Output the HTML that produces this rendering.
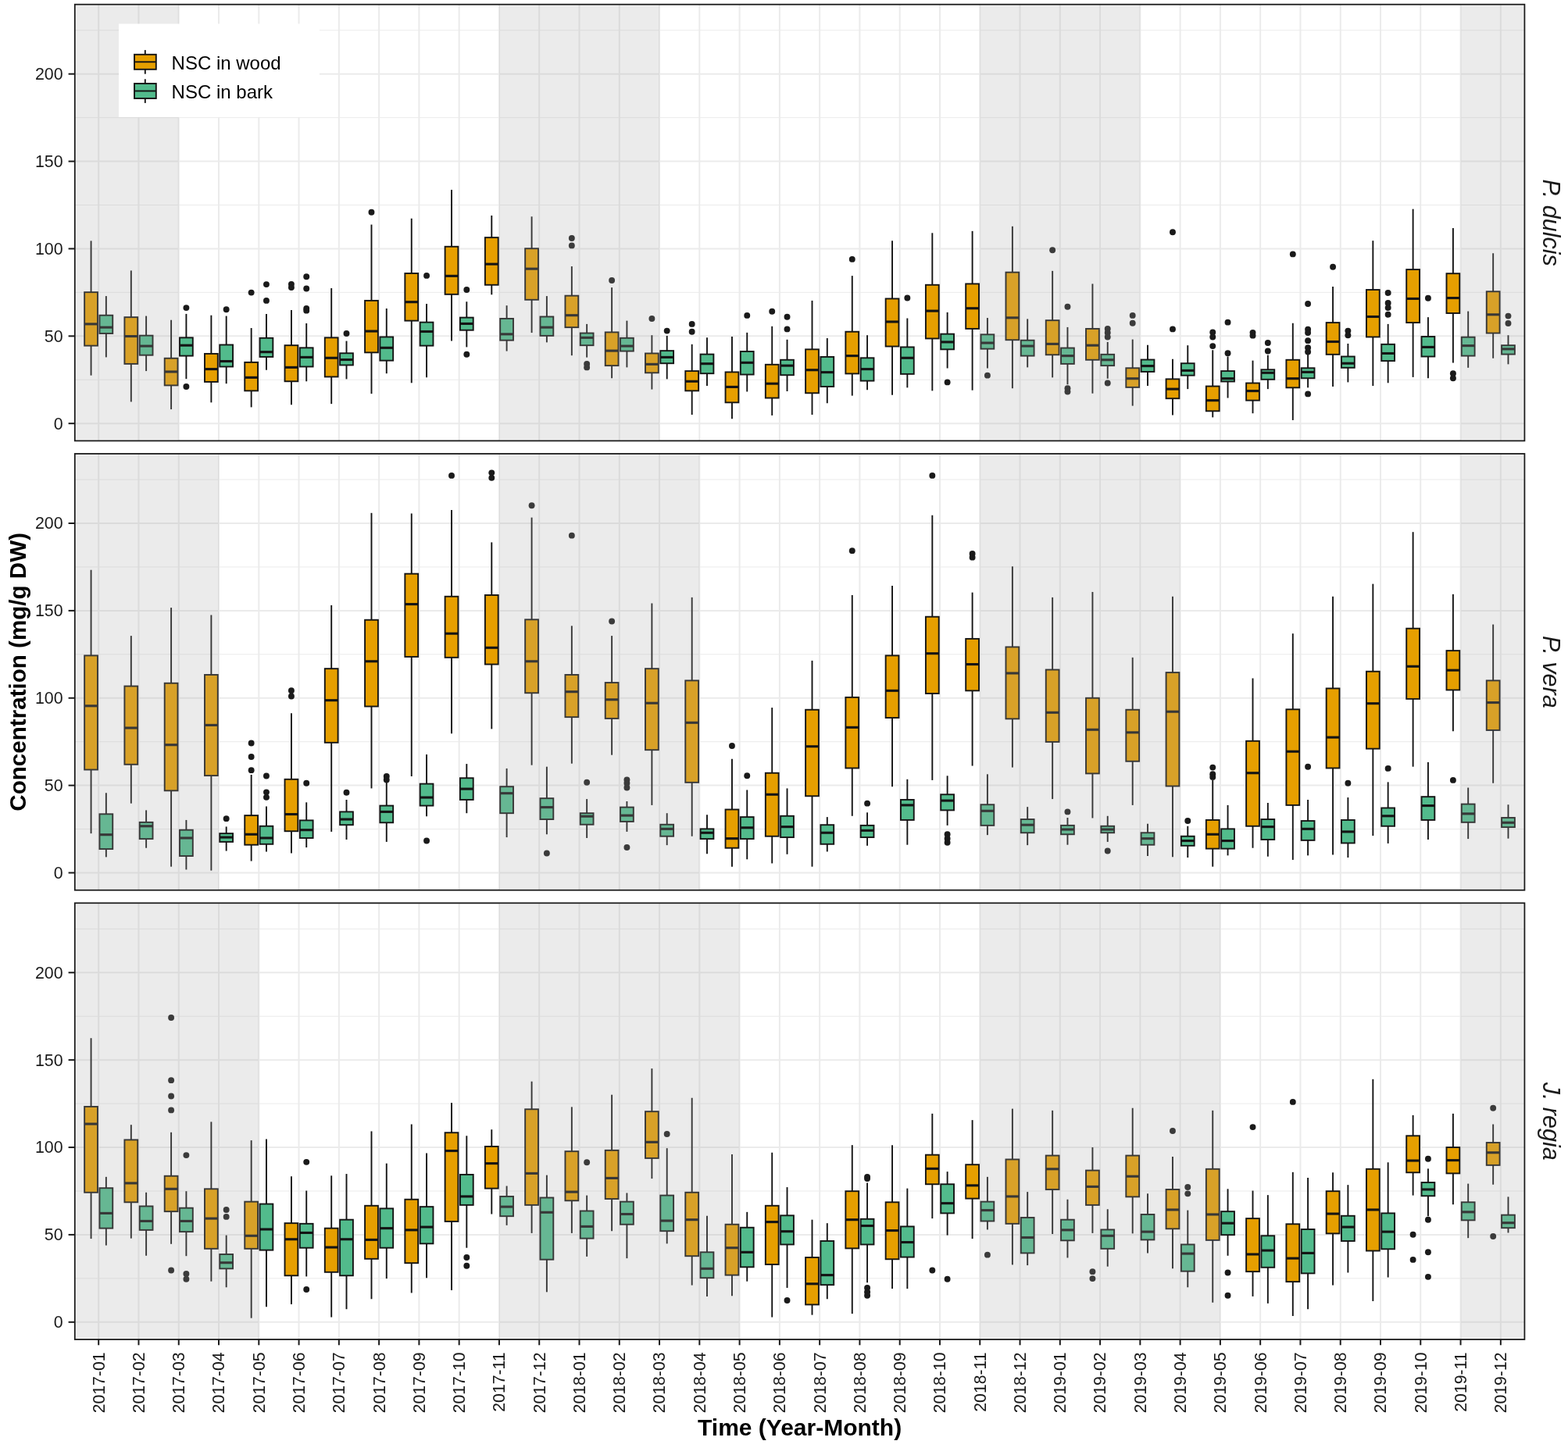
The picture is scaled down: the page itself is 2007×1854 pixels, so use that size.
<!DOCTYPE html>
<html><head><meta charset="utf-8"><title>NSC concentration</title><style>
html,body{margin:0;padding:0;background:#fff}
svg{display:block}
text{font-family:"Liberation Sans",Arial,sans-serif}
.yt text{font-size:21.4px;fill:#1A1A1A;text-anchor:end}
.xt text{font-size:21.2px;fill:#1A1A1A;text-anchor:end}
.tt{font-size:30px;font-weight:bold;fill:#000;text-anchor:middle}
.st{font-size:30.5px;font-style:italic;fill:#1A1A1A;text-anchor:middle}
.lg{font-size:24px;fill:#000}
line.m{stroke-width:3.1px}
</style></head><body>
<svg width="2007" height="1854" viewBox="0 0 2007 1854">
<rect x="0" y="0" width="2007" height="1854" fill="#fff"/>
<g><line x1="95.8" x2="1951.4" y1="486.26" y2="486.26" stroke="#EBEBEB" stroke-width="1"/><line x1="95.8" x2="1951.4" y1="374.39" y2="374.39" stroke="#EBEBEB" stroke-width="1"/><line x1="95.8" x2="1951.4" y1="262.51" y2="262.51" stroke="#EBEBEB" stroke-width="1"/><line x1="95.8" x2="1951.4" y1="150.64" y2="150.64" stroke="#EBEBEB" stroke-width="1"/><line x1="95.8" x2="1951.4" y1="38.76" y2="38.76" stroke="#EBEBEB" stroke-width="1"/><line x1="95.8" x2="1951.4" y1="542.2" y2="542.2" stroke="#EBEBEB" stroke-width="2"/><line x1="95.8" x2="1951.4" y1="430.33" y2="430.33" stroke="#EBEBEB" stroke-width="2"/><line x1="95.8" x2="1951.4" y1="318.45" y2="318.45" stroke="#EBEBEB" stroke-width="2"/><line x1="95.8" x2="1951.4" y1="206.58" y2="206.58" stroke="#EBEBEB" stroke-width="2"/><line x1="95.8" x2="1951.4" y1="94.7" y2="94.7" stroke="#EBEBEB" stroke-width="2"/><line x1="126.2" x2="126.2" y1="5.7" y2="564.4" stroke="#EBEBEB" stroke-width="2"/><line x1="177.47" x2="177.47" y1="5.7" y2="564.4" stroke="#EBEBEB" stroke-width="2"/><line x1="228.75" x2="228.75" y1="5.7" y2="564.4" stroke="#EBEBEB" stroke-width="2"/><line x1="280.02" x2="280.02" y1="5.7" y2="564.4" stroke="#EBEBEB" stroke-width="2"/><line x1="331.3" x2="331.3" y1="5.7" y2="564.4" stroke="#EBEBEB" stroke-width="2"/><line x1="382.57" x2="382.57" y1="5.7" y2="564.4" stroke="#EBEBEB" stroke-width="2"/><line x1="433.85" x2="433.85" y1="5.7" y2="564.4" stroke="#EBEBEB" stroke-width="2"/><line x1="485.12" x2="485.12" y1="5.7" y2="564.4" stroke="#EBEBEB" stroke-width="2"/><line x1="536.4" x2="536.4" y1="5.7" y2="564.4" stroke="#EBEBEB" stroke-width="2"/><line x1="587.67" x2="587.67" y1="5.7" y2="564.4" stroke="#EBEBEB" stroke-width="2"/><line x1="638.95" x2="638.95" y1="5.7" y2="564.4" stroke="#EBEBEB" stroke-width="2"/><line x1="690.23" x2="690.23" y1="5.7" y2="564.4" stroke="#EBEBEB" stroke-width="2"/><line x1="741.5" x2="741.5" y1="5.7" y2="564.4" stroke="#EBEBEB" stroke-width="2"/><line x1="792.77" x2="792.77" y1="5.7" y2="564.4" stroke="#EBEBEB" stroke-width="2"/><line x1="844.05" x2="844.05" y1="5.7" y2="564.4" stroke="#EBEBEB" stroke-width="2"/><line x1="895.33" x2="895.33" y1="5.7" y2="564.4" stroke="#EBEBEB" stroke-width="2"/><line x1="946.6" x2="946.6" y1="5.7" y2="564.4" stroke="#EBEBEB" stroke-width="2"/><line x1="997.88" x2="997.88" y1="5.7" y2="564.4" stroke="#EBEBEB" stroke-width="2"/><line x1="1049.15" x2="1049.15" y1="5.7" y2="564.4" stroke="#EBEBEB" stroke-width="2"/><line x1="1100.42" x2="1100.42" y1="5.7" y2="564.4" stroke="#EBEBEB" stroke-width="2"/><line x1="1151.7" x2="1151.7" y1="5.7" y2="564.4" stroke="#EBEBEB" stroke-width="2"/><line x1="1202.97" x2="1202.97" y1="5.7" y2="564.4" stroke="#EBEBEB" stroke-width="2"/><line x1="1254.25" x2="1254.25" y1="5.7" y2="564.4" stroke="#EBEBEB" stroke-width="2"/><line x1="1305.53" x2="1305.53" y1="5.7" y2="564.4" stroke="#EBEBEB" stroke-width="2"/><line x1="1356.8" x2="1356.8" y1="5.7" y2="564.4" stroke="#EBEBEB" stroke-width="2"/><line x1="1408.08" x2="1408.08" y1="5.7" y2="564.4" stroke="#EBEBEB" stroke-width="2"/><line x1="1459.35" x2="1459.35" y1="5.7" y2="564.4" stroke="#EBEBEB" stroke-width="2"/><line x1="1510.62" x2="1510.62" y1="5.7" y2="564.4" stroke="#EBEBEB" stroke-width="2"/><line x1="1561.9" x2="1561.9" y1="5.7" y2="564.4" stroke="#EBEBEB" stroke-width="2"/><line x1="1613.17" x2="1613.17" y1="5.7" y2="564.4" stroke="#EBEBEB" stroke-width="2"/><line x1="1664.45" x2="1664.45" y1="5.7" y2="564.4" stroke="#EBEBEB" stroke-width="2"/><line x1="1715.72" x2="1715.72" y1="5.7" y2="564.4" stroke="#EBEBEB" stroke-width="2"/><line x1="1767" x2="1767" y1="5.7" y2="564.4" stroke="#EBEBEB" stroke-width="2"/><line x1="1818.28" x2="1818.28" y1="5.7" y2="564.4" stroke="#EBEBEB" stroke-width="2"/><line x1="1869.55" x2="1869.55" y1="5.7" y2="564.4" stroke="#EBEBEB" stroke-width="2"/><line x1="1920.83" x2="1920.83" y1="5.7" y2="564.4" stroke="#EBEBEB" stroke-width="2"/></g>
<g stroke="#141414" stroke-width="1.9" fill="#1A1A1A"><line x1="116.55" x2="116.55" y1="308.38" y2="374.16"/><line x1="116.55" x2="116.55" y1="442.63" y2="480.67"/><rect x="108.15" y="374.16" width="16.8" height="68.47" fill="#E69F00"/><line class="m" x1="108.15" x2="124.95" y1="414.89" y2="414.89"/><line x1="135.85" x2="135.85" y1="379.09" y2="403.7"/><line x1="135.85" x2="135.85" y1="426.97" y2="457.4"/><rect x="127.45" y="403.7" width="16.8" height="23.27" fill="#52BB8C"/><line class="m" x1="127.45" x2="144.25" y1="419.14" y2="419.14"/><line x1="167.82" x2="167.82" y1="346.42" y2="406.16"/><line x1="167.82" x2="167.82" y1="465.9" y2="514.46"/><rect x="159.42" y="406.16" width="16.8" height="59.74" fill="#E69F00"/><line class="m" x1="159.42" x2="176.22" y1="430.55" y2="430.55"/><line x1="187.12" x2="187.12" y1="404.59" y2="429.65"/><line x1="187.12" x2="187.12" y1="454.71" y2="475.08"/><rect x="178.72" y="429.65" width="16.8" height="25.06" fill="#52BB8C"/><line class="m" x1="178.72" x2="195.53" y1="443.08" y2="443.08"/><line x1="219.1" x2="219.1" y1="409.74" y2="458.74"/><line x1="219.1" x2="219.1" y1="493.42" y2="524.08"/><rect x="210.7" y="458.74" width="16.8" height="34.68" fill="#E69F00"/><line class="m" x1="210.7" x2="227.5" y1="475.97" y2="475.97"/><line x1="238.4" x2="238.4" y1="401.91" y2="432.34"/><line x1="238.4" x2="238.4" y1="455.61" y2="485.14"/><rect x="230" y="432.34" width="16.8" height="23.27" fill="#52BB8C"/><line class="m" x1="230" x2="246.8" y1="442.18" y2="442.18"/><circle cx="238.4" cy="394.08" r="3.95" stroke="none"/><circle cx="238.4" cy="494.99" r="3.95" stroke="none"/><line x1="270.38" x2="270.38" y1="403.7" y2="452.92"/><line x1="270.38" x2="270.38" y1="488.95" y2="515.35"/><rect x="261.98" y="452.92" width="16.8" height="36.02" fill="#E69F00"/><line class="m" x1="261.98" x2="278.77" y1="472.61" y2="472.61"/><line x1="289.67" x2="289.67" y1="404.59" y2="441.51"/><line x1="289.67" x2="289.67" y1="469.48" y2="491.19"/><rect x="281.27" y="441.51" width="16.8" height="27.97" fill="#52BB8C"/><line class="m" x1="281.27" x2="298.07" y1="462.55" y2="462.55"/><circle cx="289.67" cy="396.32" r="3.95" stroke="none"/><line x1="321.65" x2="321.65" y1="420.03" y2="463.89"/><line x1="321.65" x2="321.65" y1="500.36" y2="521.39"/><rect x="313.25" y="463.89" width="16.8" height="36.47" fill="#E69F00"/><line class="m" x1="313.25" x2="330.05" y1="483.35" y2="483.35"/><circle cx="321.65" cy="374.61" r="3.95" stroke="none"/><line x1="340.95" x2="340.95" y1="401.91" y2="432.79"/><line x1="340.95" x2="340.95" y1="456.95" y2="473.73"/><rect x="332.55" y="432.79" width="16.8" height="24.16" fill="#52BB8C"/><line class="m" x1="332.55" x2="349.35" y1="450.69" y2="450.69"/><circle cx="340.95" cy="364.1" r="3.95" stroke="none"/><circle cx="340.95" cy="384.9" r="3.95" stroke="none"/><line x1="372.93" x2="372.93" y1="396.99" y2="442.18"/><line x1="372.93" x2="372.93" y1="488.28" y2="518.26"/><rect x="364.53" y="442.18" width="16.8" height="46.09" fill="#E69F00"/><line class="m" x1="364.53" x2="381.32" y1="470.38" y2="470.38"/><circle cx="372.93" cy="363.87" r="3.95" stroke="none"/><circle cx="372.93" cy="368.12" r="3.95" stroke="none"/><line x1="392.22" x2="392.22" y1="413.99" y2="445.32"/><line x1="392.22" x2="392.22" y1="469.48" y2="488.28"/><rect x="383.82" y="445.32" width="16.8" height="24.16" fill="#52BB8C"/><line class="m" x1="383.82" x2="400.62" y1="457.4" y2="457.4"/><circle cx="392.22" cy="354.25" r="3.95" stroke="none"/><circle cx="392.22" cy="369.47" r="3.95" stroke="none"/><circle cx="392.22" cy="394.97" r="3.95" stroke="none"/><circle cx="392.22" cy="397.66" r="3.95" stroke="none"/><line x1="424.2" x2="424.2" y1="369.02" y2="432.34"/><line x1="424.2" x2="424.2" y1="482.46" y2="517.14"/><rect x="415.8" y="432.34" width="16.8" height="50.12" fill="#E69F00"/><line class="m" x1="415.8" x2="432.6" y1="458.29" y2="458.29"/><line x1="443.5" x2="443.5" y1="436.59" y2="452.25"/><line x1="443.5" x2="443.5" y1="467.47" y2="485.37"/><rect x="435.1" y="452.25" width="16.8" height="15.22" fill="#52BB8C"/><line class="m" x1="435.1" x2="451.9" y1="460.53" y2="460.53"/><circle cx="443.5" cy="426.97" r="3.95" stroke="none"/><line x1="475.48" x2="475.48" y1="287.57" y2="384.9"/><line x1="475.48" x2="475.48" y1="451.36" y2="504.16"/><rect x="467.08" y="384.9" width="16.8" height="66.45" fill="#E69F00"/><line class="m" x1="467.08" x2="483.88" y1="424.06" y2="424.06"/><circle cx="475.48" cy="271.69" r="3.95" stroke="none"/><line x1="494.77" x2="494.77" y1="394.97" y2="431.44"/><line x1="494.77" x2="494.77" y1="461.65" y2="478.21"/><rect x="486.38" y="431.44" width="16.8" height="30.21" fill="#52BB8C"/><line class="m" x1="486.38" x2="503.17" y1="445.32" y2="445.32"/><line x1="526.75" x2="526.75" y1="279.74" y2="350"/><line x1="526.75" x2="526.75" y1="410.64" y2="490.29"/><rect x="518.35" y="350" width="16.8" height="60.64" fill="#E69F00"/><line class="m" x1="518.35" x2="535.15" y1="386.69" y2="386.69"/><line x1="546.05" x2="546.05" y1="388.93" y2="412.65"/><line x1="546.05" x2="546.05" y1="442.63" y2="483.35"/><rect x="537.65" y="412.65" width="16.8" height="29.98" fill="#52BB8C"/><line class="m" x1="537.65" x2="554.45" y1="424.51" y2="424.51"/><circle cx="546.05" cy="352.91" r="3.95" stroke="none"/><line x1="578.02" x2="578.02" y1="243.05" y2="315.77"/><line x1="578.02" x2="578.02" y1="376.85" y2="436.59"/><rect x="569.62" y="315.77" width="16.8" height="61.08" fill="#E69F00"/><line class="m" x1="569.62" x2="586.42" y1="353.36" y2="353.36"/><line x1="597.32" x2="597.32" y1="386.25" y2="406.61"/><line x1="597.32" x2="597.32" y1="422.72" y2="444.42"/><rect x="588.92" y="406.61" width="16.8" height="16.11" fill="#52BB8C"/><line class="m" x1="588.92" x2="605.72" y1="414.44" y2="414.44"/><circle cx="597.32" cy="371.03" r="3.95" stroke="none"/><circle cx="597.32" cy="453.82" r="3.95" stroke="none"/><line x1="629.3" x2="629.3" y1="275.94" y2="304.13"/><line x1="629.3" x2="629.3" y1="364.77" y2="377.3"/><rect x="620.9" y="304.13" width="16.8" height="60.64" fill="#E69F00"/><line class="m" x1="620.9" x2="637.7" y1="338.14" y2="338.14"/><line x1="648.6" x2="648.6" y1="391.17" y2="407.95"/><line x1="648.6" x2="648.6" y1="435.7" y2="449.57"/><rect x="640.2" y="407.95" width="16.8" height="27.74" fill="#52BB8C"/><line class="m" x1="640.2" x2="657" y1="427.86" y2="427.86"/><line x1="680.58" x2="680.58" y1="277.28" y2="318.23"/><line x1="680.58" x2="680.58" y1="383.79" y2="426.07"/><rect x="672.18" y="318.23" width="16.8" height="65.56" fill="#E69F00"/><line class="m" x1="672.18" x2="688.98" y1="344.18" y2="344.18"/><line x1="699.88" x2="699.88" y1="379.09" y2="405.49"/><line x1="699.88" x2="699.88" y1="429.88" y2="438.38"/><rect x="691.48" y="405.49" width="16.8" height="24.39" fill="#52BB8C"/><line class="m" x1="691.48" x2="708.27" y1="419.14" y2="419.14"/><line x1="731.85" x2="731.85" y1="341.05" y2="378.64"/><line x1="731.85" x2="731.85" y1="419.14" y2="455.16"/><rect x="723.45" y="378.64" width="16.8" height="40.5" fill="#E69F00"/><line class="m" x1="723.45" x2="740.25" y1="403.7" y2="403.7"/><circle cx="731.85" cy="305.03" r="3.95" stroke="none"/><circle cx="731.85" cy="314.42" r="3.95" stroke="none"/><line x1="751.15" x2="751.15" y1="414.89" y2="426.52"/><line x1="751.15" x2="751.15" y1="442.18" y2="457.62"/><rect x="742.75" y="426.52" width="16.8" height="15.66" fill="#52BB8C"/><line class="m" x1="742.75" x2="759.55" y1="432.34" y2="432.34"/><circle cx="751.15" cy="465.9" r="3.95" stroke="none"/><circle cx="751.15" cy="470.38" r="3.95" stroke="none"/><line x1="783.12" x2="783.12" y1="368.12" y2="425.4"/><line x1="783.12" x2="783.12" y1="468.14" y2="484.25"/><rect x="774.73" y="425.4" width="16.8" height="42.74" fill="#E69F00"/><line class="m" x1="774.73" x2="791.52" y1="449.12" y2="449.12"/><circle cx="783.12" cy="358.95" r="3.95" stroke="none"/><line x1="802.42" x2="802.42" y1="410.64" y2="432.79"/><line x1="802.42" x2="802.42" y1="449.57" y2="470.38"/><rect x="794.02" y="432.79" width="16.8" height="16.78" fill="#52BB8C"/><line class="m" x1="794.02" x2="810.82" y1="443.08" y2="443.08"/><line x1="834.4" x2="834.4" y1="429.21" y2="452.48"/><line x1="834.4" x2="834.4" y1="477.31" y2="498.57"/><rect x="826" y="452.48" width="16.8" height="24.84" fill="#E69F00"/><line class="m" x1="826" x2="842.8" y1="466.35" y2="466.35"/><circle cx="834.4" cy="407.95" r="3.95" stroke="none"/><line x1="853.7" x2="853.7" y1="429.88" y2="449.12"/><line x1="853.7" x2="853.7" y1="465.23" y2="485.37"/><rect x="845.3" y="449.12" width="16.8" height="16.11" fill="#52BB8C"/><line class="m" x1="845.3" x2="862.1" y1="457.4" y2="457.4"/><circle cx="853.7" cy="423.61" r="3.95" stroke="none"/><line x1="885.68" x2="885.68" y1="440.84" y2="475.08"/><line x1="885.68" x2="885.68" y1="500.36" y2="531.01"/><rect x="877.28" y="475.08" width="16.8" height="25.28" fill="#E69F00"/><line class="m" x1="877.28" x2="894.08" y1="488.28" y2="488.28"/><circle cx="885.68" cy="414.89" r="3.95" stroke="none"/><circle cx="885.68" cy="424.73" r="3.95" stroke="none"/><line x1="904.98" x2="904.98" y1="432.34" y2="453.6"/><line x1="904.98" x2="904.98" y1="478.21" y2="494.09"/><rect x="896.58" y="453.6" width="16.8" height="24.61" fill="#52BB8C"/><line class="m" x1="896.58" x2="913.38" y1="465.68" y2="465.68"/><line x1="936.95" x2="936.95" y1="431" y2="476.42"/><line x1="936.95" x2="936.95" y1="515.35" y2="536.16"/><rect x="928.55" y="476.42" width="16.8" height="38.93" fill="#E69F00"/><line class="m" x1="928.55" x2="945.35" y1="495.44" y2="495.44"/><line x1="956.25" x2="956.25" y1="425.85" y2="450.02"/><line x1="956.25" x2="956.25" y1="479.55" y2="501.48"/><rect x="947.85" y="450.02" width="16.8" height="29.54" fill="#52BB8C"/><line class="m" x1="947.85" x2="964.65" y1="464.34" y2="464.34"/><circle cx="956.25" cy="403.92" r="3.95" stroke="none"/><line x1="988.23" x2="988.23" y1="417.8" y2="466.8"/><line x1="988.23" x2="988.23" y1="509.53" y2="531.91"/><rect x="979.83" y="466.8" width="16.8" height="42.74" fill="#E69F00"/><line class="m" x1="979.83" x2="996.62" y1="491.19" y2="491.19"/><circle cx="988.23" cy="398.78" r="3.95" stroke="none"/><line x1="1007.52" x2="1007.52" y1="434.8" y2="460.76"/><line x1="1007.52" x2="1007.52" y1="480.22" y2="501.03"/><rect x="999.12" y="460.76" width="16.8" height="19.47" fill="#52BB8C"/><line class="m" x1="999.12" x2="1015.92" y1="468.14" y2="468.14"/><circle cx="1007.52" cy="405.71" r="3.95" stroke="none"/><circle cx="1007.52" cy="421.38" r="3.95" stroke="none"/><line x1="1039.5" x2="1039.5" y1="384.9" y2="447.33"/><line x1="1039.5" x2="1039.5" y1="503.27" y2="531.01"/><rect x="1031.1" y="447.33" width="16.8" height="55.94" fill="#E69F00"/><line class="m" x1="1031.1" x2="1047.9" y1="473.73" y2="473.73"/><line x1="1058.8" x2="1058.8" y1="433.01" y2="456.95"/><line x1="1058.8" x2="1058.8" y1="494.99" y2="516.25"/><rect x="1050.4" y="456.95" width="16.8" height="38.04" fill="#52BB8C"/><line class="m" x1="1050.4" x2="1067.2" y1="476.64" y2="476.64"/><line x1="1090.77" x2="1090.77" y1="353.13" y2="424.73"/><line x1="1090.77" x2="1090.77" y1="478.43" y2="506.62"/><rect x="1082.37" y="424.73" width="16.8" height="53.7" fill="#E69F00"/><line class="m" x1="1082.37" x2="1099.17" y1="455.61" y2="455.61"/><circle cx="1090.77" cy="331.88" r="3.95" stroke="none"/><line x1="1110.08" x2="1110.08" y1="429.21" y2="458.29"/><line x1="1110.08" x2="1110.08" y1="487.61" y2="499.24"/><rect x="1101.67" y="458.29" width="16.8" height="29.31" fill="#52BB8C"/><line class="m" x1="1101.67" x2="1118.48" y1="472.61" y2="472.61"/><line x1="1142.05" x2="1142.05" y1="308.16" y2="382.44"/><line x1="1142.05" x2="1142.05" y1="443.53" y2="505.73"/><rect x="1133.65" y="382.44" width="16.8" height="61.08" fill="#E69F00"/><line class="m" x1="1133.65" x2="1150.45" y1="411.98" y2="411.98"/><line x1="1161.35" x2="1161.35" y1="407.5" y2="444.42"/><line x1="1161.35" x2="1161.35" y1="478.88" y2="496.33"/><rect x="1152.95" y="444.42" width="16.8" height="34.46" fill="#52BB8C"/><line class="m" x1="1152.95" x2="1169.75" y1="458.29" y2="458.29"/><circle cx="1161.35" cy="381.55" r="3.95" stroke="none"/><line x1="1193.32" x2="1193.32" y1="298.31" y2="364.77"/><line x1="1193.32" x2="1193.32" y1="433.46" y2="500.36"/><rect x="1184.92" y="364.77" width="16.8" height="68.69" fill="#E69F00"/><line class="m" x1="1184.92" x2="1201.72" y1="398.11" y2="398.11"/><line x1="1212.62" x2="1212.62" y1="399.9" y2="427.64"/><line x1="1212.62" x2="1212.62" y1="447.33" y2="471.5"/><rect x="1204.22" y="427.64" width="16.8" height="19.69" fill="#52BB8C"/><line class="m" x1="1204.22" x2="1221.03" y1="437.93" y2="437.93"/><circle cx="1212.62" cy="489.4" r="3.95" stroke="none"/><line x1="1244.6" x2="1244.6" y1="295.85" y2="363.42"/><line x1="1244.6" x2="1244.6" y1="420.93" y2="499.69"/><rect x="1236.2" y="363.42" width="16.8" height="57.5" fill="#E69F00"/><line class="m" x1="1236.2" x2="1253" y1="394.75" y2="394.75"/><line x1="1263.9" x2="1263.9" y1="407.06" y2="428.31"/><line x1="1263.9" x2="1263.9" y1="446.66" y2="471.5"/><rect x="1255.5" y="428.31" width="16.8" height="18.35" fill="#52BB8C"/><line class="m" x1="1255.5" x2="1272.3" y1="439.05" y2="439.05"/><circle cx="1263.9" cy="480.67" r="3.95" stroke="none"/><line x1="1295.88" x2="1295.88" y1="289.81" y2="348.66"/><line x1="1295.88" x2="1295.88" y1="435.25" y2="497.23"/><rect x="1287.47" y="348.66" width="16.8" height="86.59" fill="#E69F00"/><line class="m" x1="1287.47" x2="1304.28" y1="406.83" y2="406.83"/><line x1="1315.18" x2="1315.18" y1="408.4" y2="435.7"/><line x1="1315.18" x2="1315.18" y1="455.61" y2="470.38"/><rect x="1306.78" y="435.7" width="16.8" height="19.91" fill="#52BB8C"/><line class="m" x1="1306.78" x2="1323.58" y1="443.08" y2="443.08"/><line x1="1347.15" x2="1347.15" y1="346.87" y2="410.19"/><line x1="1347.15" x2="1347.15" y1="454.27" y2="483.35"/><rect x="1338.75" y="410.19" width="16.8" height="44.08" fill="#E69F00"/><line class="m" x1="1338.75" x2="1355.55" y1="440.39" y2="440.39"/><circle cx="1347.15" cy="320.24" r="3.95" stroke="none"/><line x1="1366.45" x2="1366.45" y1="418.91" y2="445.54"/><line x1="1366.45" x2="1366.45" y1="465.9" y2="492.3"/><rect x="1358.05" y="445.54" width="16.8" height="20.36" fill="#52BB8C"/><line class="m" x1="1358.05" x2="1374.85" y1="455.61" y2="455.61"/><circle cx="1366.45" cy="392.74" r="3.95" stroke="none"/><circle cx="1366.45" cy="497.23" r="3.95" stroke="none"/><circle cx="1366.45" cy="501.48" r="3.95" stroke="none"/><line x1="1398.42" x2="1398.42" y1="363.42" y2="420.93"/><line x1="1398.42" x2="1398.42" y1="460.76" y2="503.72"/><rect x="1390.02" y="420.93" width="16.8" height="39.83" fill="#E69F00"/><line class="m" x1="1390.02" x2="1406.83" y1="442.18" y2="442.18"/><line x1="1417.73" x2="1417.73" y1="437.93" y2="453.82"/><line x1="1417.73" x2="1417.73" y1="468.14" y2="484.7"/><rect x="1409.33" y="453.82" width="16.8" height="14.32" fill="#52BB8C"/><line class="m" x1="1409.33" x2="1426.13" y1="460.76" y2="460.76"/><circle cx="1417.73" cy="420.93" r="3.95" stroke="none"/><circle cx="1417.73" cy="426.07" r="3.95" stroke="none"/><circle cx="1417.73" cy="431.44" r="3.95" stroke="none"/><circle cx="1417.73" cy="490.51" r="3.95" stroke="none"/><line x1="1449.7" x2="1449.7" y1="434.58" y2="471.27"/><line x1="1449.7" x2="1449.7" y1="495.88" y2="519.6"/><rect x="1441.3" y="471.27" width="16.8" height="24.61" fill="#E69F00"/><line class="m" x1="1441.3" x2="1458.1" y1="484.7" y2="484.7"/><circle cx="1449.7" cy="403.92" r="3.95" stroke="none"/><circle cx="1449.7" cy="413.77" r="3.95" stroke="none"/><line x1="1469" x2="1469" y1="441.74" y2="460.53"/><line x1="1469" x2="1469" y1="475.97" y2="494.09"/><rect x="1460.6" y="460.53" width="16.8" height="15.44" fill="#52BB8C"/><line class="m" x1="1460.6" x2="1477.4" y1="468.59" y2="468.59"/><line x1="1500.97" x2="1500.97" y1="459.86" y2="485.37"/><line x1="1500.97" x2="1500.97" y1="510.2" y2="531.46"/><rect x="1492.57" y="485.37" width="16.8" height="24.84" fill="#E69F00"/><line class="m" x1="1492.57" x2="1509.38" y1="498.12" y2="498.12"/><circle cx="1500.97" cy="297.19" r="3.95" stroke="none"/><circle cx="1500.97" cy="421.38" r="3.95" stroke="none"/><line x1="1520.28" x2="1520.28" y1="442.18" y2="465.23"/><line x1="1520.28" x2="1520.28" y1="480.67" y2="498.12"/><rect x="1511.88" y="465.23" width="16.8" height="15.44" fill="#52BB8C"/><line class="m" x1="1511.88" x2="1528.68" y1="474.4" y2="474.4"/><line x1="1552.25" x2="1552.25" y1="448.23" y2="494.54"/><line x1="1552.25" x2="1552.25" y1="526.31" y2="534.37"/><rect x="1543.85" y="494.54" width="16.8" height="31.77" fill="#E69F00"/><line class="m" x1="1543.85" x2="1560.65" y1="512.67" y2="512.67"/><circle cx="1552.25" cy="425.4" r="3.95" stroke="none"/><circle cx="1552.25" cy="431.44" r="3.95" stroke="none"/><circle cx="1552.25" cy="443.08" r="3.95" stroke="none"/><line x1="1571.55" x2="1571.55" y1="456.5" y2="475.08"/><line x1="1571.55" x2="1571.55" y1="488.5" y2="509.53"/><rect x="1563.15" y="475.08" width="16.8" height="13.42" fill="#52BB8C"/><line class="m" x1="1563.15" x2="1579.95" y1="484.7" y2="484.7"/><circle cx="1571.55" cy="412.65" r="3.95" stroke="none"/><circle cx="1571.55" cy="452.25" r="3.95" stroke="none"/><line x1="1603.52" x2="1603.52" y1="461.65" y2="490.51"/><line x1="1603.52" x2="1603.52" y1="512.67" y2="529.22"/><rect x="1595.12" y="490.51" width="16.8" height="22.15" fill="#E69F00"/><line class="m" x1="1595.12" x2="1611.92" y1="500.58" y2="500.58"/><circle cx="1603.52" cy="425.85" r="3.95" stroke="none"/><circle cx="1603.52" cy="429.65" r="3.95" stroke="none"/><line x1="1622.83" x2="1622.83" y1="454.71" y2="473.29"/><line x1="1622.83" x2="1622.83" y1="485.82" y2="498.12"/><rect x="1614.42" y="473.29" width="16.8" height="12.53" fill="#52BB8C"/><line class="m" x1="1614.42" x2="1631.23" y1="477.31" y2="477.31"/><circle cx="1622.83" cy="439.05" r="3.95" stroke="none"/><circle cx="1622.83" cy="449.57" r="3.95" stroke="none"/><line x1="1654.8" x2="1654.8" y1="413.77" y2="460.76"/><line x1="1654.8" x2="1654.8" y1="496.33" y2="537.95"/><rect x="1646.4" y="460.76" width="16.8" height="35.58" fill="#E69F00"/><line class="m" x1="1646.4" x2="1663.2" y1="484.7" y2="484.7"/><circle cx="1654.8" cy="325.39" r="3.95" stroke="none"/><line x1="1674.1" x2="1674.1" y1="453.82" y2="471.27"/><line x1="1674.1" x2="1674.1" y1="484.25" y2="496.33"/><rect x="1665.7" y="471.27" width="16.8" height="12.98" fill="#52BB8C"/><line class="m" x1="1665.7" x2="1682.5" y1="476.42" y2="476.42"/><circle cx="1674.1" cy="388.93" r="3.95" stroke="none"/><circle cx="1674.1" cy="421.82" r="3.95" stroke="none"/><circle cx="1674.1" cy="426.07" r="3.95" stroke="none"/><circle cx="1674.1" cy="436.14" r="3.95" stroke="none"/><circle cx="1674.1" cy="445.32" r="3.95" stroke="none"/><circle cx="1674.1" cy="450.46" r="3.95" stroke="none"/><circle cx="1674.1" cy="504.39" r="3.95" stroke="none"/><line x1="1706.07" x2="1706.07" y1="367" y2="413.1"/><line x1="1706.07" x2="1706.07" y1="453.82" y2="494.99"/><rect x="1697.67" y="413.1" width="16.8" height="40.72" fill="#E69F00"/><line class="m" x1="1697.67" x2="1714.47" y1="437.49" y2="437.49"/><circle cx="1706.07" cy="341.72" r="3.95" stroke="none"/><line x1="1725.38" x2="1725.38" y1="439.95" y2="456.5"/><line x1="1725.38" x2="1725.38" y1="470.82" y2="489.4"/><rect x="1716.97" y="456.5" width="16.8" height="14.32" fill="#52BB8C"/><line class="m" x1="1716.97" x2="1733.78" y1="465.23" y2="465.23"/><circle cx="1725.38" cy="423.61" r="3.95" stroke="none"/><circle cx="1725.38" cy="429.21" r="3.95" stroke="none"/><line x1="1757.35" x2="1757.35" y1="308.16" y2="371.03"/><line x1="1757.35" x2="1757.35" y1="431.44" y2="494.09"/><rect x="1748.95" y="371.03" width="16.8" height="60.41" fill="#E69F00"/><line class="m" x1="1748.95" x2="1765.75" y1="405.49" y2="405.49"/><line x1="1776.65" x2="1776.65" y1="414.89" y2="440.84"/><line x1="1776.65" x2="1776.65" y1="462.1" y2="490.29"/><rect x="1768.25" y="440.84" width="16.8" height="21.26" fill="#52BB8C"/><line class="m" x1="1768.25" x2="1785.05" y1="452.48" y2="452.48"/><circle cx="1776.65" cy="375.06" r="3.95" stroke="none"/><circle cx="1776.65" cy="388.04" r="3.95" stroke="none"/><circle cx="1776.65" cy="394.08" r="3.95" stroke="none"/><circle cx="1776.65" cy="402.8" r="3.95" stroke="none"/><line x1="1808.62" x2="1808.62" y1="267.66" y2="345.08"/><line x1="1808.62" x2="1808.62" y1="413.1" y2="482.91"/><rect x="1800.22" y="345.08" width="16.8" height="68.02" fill="#E69F00"/><line class="m" x1="1800.22" x2="1817.03" y1="382.44" y2="382.44"/><line x1="1827.93" x2="1827.93" y1="406.16" y2="431"/><line x1="1827.93" x2="1827.93" y1="456.5" y2="484.25"/><rect x="1819.53" y="431" width="16.8" height="25.51" fill="#52BB8C"/><line class="m" x1="1819.53" x2="1836.33" y1="444.42" y2="444.42"/><circle cx="1827.93" cy="381.77" r="3.95" stroke="none"/><line x1="1859.9" x2="1859.9" y1="292.05" y2="350.22"/><line x1="1859.9" x2="1859.9" y1="401.01" y2="464.56"/><rect x="1851.5" y="350.22" width="16.8" height="50.79" fill="#E69F00"/><line class="m" x1="1851.5" x2="1868.3" y1="381.55" y2="381.55"/><circle cx="1859.9" cy="478.21" r="3.95" stroke="none"/><circle cx="1859.9" cy="484.25" r="3.95" stroke="none"/><line x1="1879.2" x2="1879.2" y1="398.55" y2="431.67"/><line x1="1879.2" x2="1879.2" y1="455.61" y2="470.82"/><rect x="1870.8" y="431.67" width="16.8" height="23.94" fill="#52BB8C"/><line class="m" x1="1870.8" x2="1887.6" y1="442.63" y2="442.63"/><line x1="1911.17" x2="1911.17" y1="324.27" y2="373.27"/><line x1="1911.17" x2="1911.17" y1="426.52" y2="458.74"/><rect x="1902.77" y="373.27" width="16.8" height="53.25" fill="#E69F00"/><line class="m" x1="1902.77" x2="1919.58" y1="402.8" y2="402.8"/><line x1="1930.48" x2="1930.48" y1="429.21" y2="442.18"/><line x1="1930.48" x2="1930.48" y1="453.6" y2="466.35"/><rect x="1922.08" y="442.18" width="16.8" height="11.41" fill="#52BB8C"/><line class="m" x1="1922.08" x2="1938.88" y1="446.88" y2="446.88"/><circle cx="1930.48" cy="404.59" r="3.95" stroke="none"/><circle cx="1930.48" cy="413.99" r="3.95" stroke="none"/></g>
<g fill="#AAAAAA" fill-opacity="0.235"><rect x="97.4" y="7.3" width="131.35" height="555.5"/><rect x="638.95" y="7.3" width="205.1" height="555.5"/><rect x="1254.25" y="7.3" width="205.1" height="555.5"/><rect x="1869.55" y="7.3" width="80.25" height="555.5"/></g>
<rect x="95.8" y="5.7" width="1855.6" height="558.7" fill="none" stroke="#1a1a1a" stroke-width="1.8"/>
<g stroke="#1A1A1A" stroke-width="2"><line x1="87.6" x2="95.8" y1="542.2" y2="542.2"/><line x1="87.6" x2="95.8" y1="430.33" y2="430.33"/><line x1="87.6" x2="95.8" y1="318.45" y2="318.45"/><line x1="87.6" x2="95.8" y1="206.58" y2="206.58"/><line x1="87.6" x2="95.8" y1="94.7" y2="94.7"/></g>
<g class="yt"><text x="80.6" y="549.6">0</text><text x="80.6" y="437.73">50</text><text x="80.6" y="325.85">100</text><text x="80.6" y="213.98">150</text><text x="80.6" y="102.1">200</text></g>
<text class="st" transform="translate(1975.3 285.05) rotate(90)">P. dulcis</text>
<g><line x1="95.8" x2="1951.4" y1="1061.56" y2="1061.56" stroke="#EBEBEB" stroke-width="1"/><line x1="95.8" x2="1951.4" y1="949.69" y2="949.69" stroke="#EBEBEB" stroke-width="1"/><line x1="95.8" x2="1951.4" y1="837.81" y2="837.81" stroke="#EBEBEB" stroke-width="1"/><line x1="95.8" x2="1951.4" y1="725.94" y2="725.94" stroke="#EBEBEB" stroke-width="1"/><line x1="95.8" x2="1951.4" y1="614.06" y2="614.06" stroke="#EBEBEB" stroke-width="1"/><line x1="95.8" x2="1951.4" y1="1117.5" y2="1117.5" stroke="#EBEBEB" stroke-width="2"/><line x1="95.8" x2="1951.4" y1="1005.62" y2="1005.62" stroke="#EBEBEB" stroke-width="2"/><line x1="95.8" x2="1951.4" y1="893.75" y2="893.75" stroke="#EBEBEB" stroke-width="2"/><line x1="95.8" x2="1951.4" y1="781.88" y2="781.88" stroke="#EBEBEB" stroke-width="2"/><line x1="95.8" x2="1951.4" y1="670" y2="670" stroke="#EBEBEB" stroke-width="2"/><line x1="126.2" x2="126.2" y1="581" y2="1139.7" stroke="#EBEBEB" stroke-width="2"/><line x1="177.47" x2="177.47" y1="581" y2="1139.7" stroke="#EBEBEB" stroke-width="2"/><line x1="228.75" x2="228.75" y1="581" y2="1139.7" stroke="#EBEBEB" stroke-width="2"/><line x1="280.02" x2="280.02" y1="581" y2="1139.7" stroke="#EBEBEB" stroke-width="2"/><line x1="331.3" x2="331.3" y1="581" y2="1139.7" stroke="#EBEBEB" stroke-width="2"/><line x1="382.57" x2="382.57" y1="581" y2="1139.7" stroke="#EBEBEB" stroke-width="2"/><line x1="433.85" x2="433.85" y1="581" y2="1139.7" stroke="#EBEBEB" stroke-width="2"/><line x1="485.12" x2="485.12" y1="581" y2="1139.7" stroke="#EBEBEB" stroke-width="2"/><line x1="536.4" x2="536.4" y1="581" y2="1139.7" stroke="#EBEBEB" stroke-width="2"/><line x1="587.67" x2="587.67" y1="581" y2="1139.7" stroke="#EBEBEB" stroke-width="2"/><line x1="638.95" x2="638.95" y1="581" y2="1139.7" stroke="#EBEBEB" stroke-width="2"/><line x1="690.23" x2="690.23" y1="581" y2="1139.7" stroke="#EBEBEB" stroke-width="2"/><line x1="741.5" x2="741.5" y1="581" y2="1139.7" stroke="#EBEBEB" stroke-width="2"/><line x1="792.77" x2="792.77" y1="581" y2="1139.7" stroke="#EBEBEB" stroke-width="2"/><line x1="844.05" x2="844.05" y1="581" y2="1139.7" stroke="#EBEBEB" stroke-width="2"/><line x1="895.33" x2="895.33" y1="581" y2="1139.7" stroke="#EBEBEB" stroke-width="2"/><line x1="946.6" x2="946.6" y1="581" y2="1139.7" stroke="#EBEBEB" stroke-width="2"/><line x1="997.88" x2="997.88" y1="581" y2="1139.7" stroke="#EBEBEB" stroke-width="2"/><line x1="1049.15" x2="1049.15" y1="581" y2="1139.7" stroke="#EBEBEB" stroke-width="2"/><line x1="1100.42" x2="1100.42" y1="581" y2="1139.7" stroke="#EBEBEB" stroke-width="2"/><line x1="1151.7" x2="1151.7" y1="581" y2="1139.7" stroke="#EBEBEB" stroke-width="2"/><line x1="1202.97" x2="1202.97" y1="581" y2="1139.7" stroke="#EBEBEB" stroke-width="2"/><line x1="1254.25" x2="1254.25" y1="581" y2="1139.7" stroke="#EBEBEB" stroke-width="2"/><line x1="1305.53" x2="1305.53" y1="581" y2="1139.7" stroke="#EBEBEB" stroke-width="2"/><line x1="1356.8" x2="1356.8" y1="581" y2="1139.7" stroke="#EBEBEB" stroke-width="2"/><line x1="1408.08" x2="1408.08" y1="581" y2="1139.7" stroke="#EBEBEB" stroke-width="2"/><line x1="1459.35" x2="1459.35" y1="581" y2="1139.7" stroke="#EBEBEB" stroke-width="2"/><line x1="1510.62" x2="1510.62" y1="581" y2="1139.7" stroke="#EBEBEB" stroke-width="2"/><line x1="1561.9" x2="1561.9" y1="581" y2="1139.7" stroke="#EBEBEB" stroke-width="2"/><line x1="1613.17" x2="1613.17" y1="581" y2="1139.7" stroke="#EBEBEB" stroke-width="2"/><line x1="1664.45" x2="1664.45" y1="581" y2="1139.7" stroke="#EBEBEB" stroke-width="2"/><line x1="1715.72" x2="1715.72" y1="581" y2="1139.7" stroke="#EBEBEB" stroke-width="2"/><line x1="1767" x2="1767" y1="581" y2="1139.7" stroke="#EBEBEB" stroke-width="2"/><line x1="1818.28" x2="1818.28" y1="581" y2="1139.7" stroke="#EBEBEB" stroke-width="2"/><line x1="1869.55" x2="1869.55" y1="581" y2="1139.7" stroke="#EBEBEB" stroke-width="2"/><line x1="1920.83" x2="1920.83" y1="581" y2="1139.7" stroke="#EBEBEB" stroke-width="2"/></g>
<g stroke="#141414" stroke-width="1.9" fill="#1A1A1A"><line x1="116.55" x2="116.55" y1="729.74" y2="839.38"/><line x1="116.55" x2="116.55" y1="985.49" y2="1067.16"/><rect x="108.15" y="839.38" width="16.8" height="146.11" fill="#E69F00"/><line class="m" x1="108.15" x2="124.95" y1="903.82" y2="903.82"/><line x1="135.85" x2="135.85" y1="1015.25" y2="1042.32"/><line x1="135.85" x2="135.85" y1="1087.07" y2="1097.36"/><rect x="127.45" y="1042.32" width="16.8" height="44.75" fill="#52BB8C"/><line class="m" x1="127.45" x2="144.25" y1="1068.72" y2="1068.72"/><line x1="167.82" x2="167.82" y1="814.1" y2="878.54"/><line x1="167.82" x2="167.82" y1="978.77" y2="1028.67"/><rect x="159.42" y="878.54" width="16.8" height="100.24" fill="#E69F00"/><line class="m" x1="159.42" x2="176.22" y1="932.01" y2="932.01"/><line x1="187.12" x2="187.12" y1="1037.4" y2="1052.84"/><line x1="187.12" x2="187.12" y1="1074.09" y2="1085.73"/><rect x="178.72" y="1052.84" width="16.8" height="21.26" fill="#52BB8C"/><line class="m" x1="178.72" x2="195.53" y1="1057.76" y2="1057.76"/><line x1="219.1" x2="219.1" y1="778.07" y2="874.73"/><line x1="219.1" x2="219.1" y1="1012.34" y2="1109.67"/><rect x="210.7" y="874.73" width="16.8" height="137.61" fill="#E69F00"/><line class="m" x1="210.7" x2="227.5" y1="953.72" y2="953.72"/><line x1="238.4" x2="238.4" y1="1049.93" y2="1062.68"/><line x1="238.4" x2="238.4" y1="1096.02" y2="1113.47"/><rect x="230" y="1062.68" width="16.8" height="33.34" fill="#52BB8C"/><line class="m" x1="230" x2="246.8" y1="1072.97" y2="1072.97"/><line x1="270.38" x2="270.38" y1="787.47" y2="863.99"/><line x1="270.38" x2="270.38" y1="993.1" y2="1114.59"/><rect x="261.98" y="863.99" width="16.8" height="129.1" fill="#E69F00"/><line class="m" x1="261.98" x2="278.77" y1="928.43" y2="928.43"/><line x1="289.67" x2="289.67" y1="1058.43" y2="1067.16"/><line x1="289.67" x2="289.67" y1="1077.9" y2="1089.53"/><rect x="281.27" y="1067.16" width="16.8" height="10.74" fill="#52BB8C"/><line class="m" x1="281.27" x2="298.07" y1="1072.08" y2="1072.08"/><circle cx="289.67" cy="1048.14" r="3.95" stroke="none"/><line x1="321.65" x2="321.65" y1="991.98" y2="1044.11"/><line x1="321.65" x2="321.65" y1="1081.7" y2="1102.51"/><rect x="313.25" y="1044.11" width="16.8" height="37.59" fill="#E69F00"/><line class="m" x1="313.25" x2="330.05" y1="1068.28" y2="1068.28"/><circle cx="321.65" cy="951.48" r="3.95" stroke="none"/><circle cx="321.65" cy="968.93" r="3.95" stroke="none"/><circle cx="321.65" cy="986.16" r="3.95" stroke="none"/><line x1="340.95" x2="340.95" y1="1032.47" y2="1057.76"/><line x1="340.95" x2="340.95" y1="1080.81" y2="1090.43"/><rect x="332.55" y="1057.76" width="16.8" height="23.05" fill="#52BB8C"/><line class="m" x1="332.55" x2="349.35" y1="1072.97" y2="1072.97"/><circle cx="340.95" cy="993.54" r="3.95" stroke="none"/><circle cx="340.95" cy="1014.35" r="3.95" stroke="none"/><circle cx="340.95" cy="1020.84" r="3.95" stroke="none"/><line x1="372.93" x2="372.93" y1="913.22" y2="997.79"/><line x1="372.93" x2="372.93" y1="1064.25" y2="1092.44"/><rect x="364.53" y="997.79" width="16.8" height="66.45" fill="#E69F00"/><line class="m" x1="364.53" x2="381.32" y1="1042.54" y2="1042.54"/><circle cx="372.93" cy="884.13" r="3.95" stroke="none"/><circle cx="372.93" cy="891.51" r="3.95" stroke="none"/><line x1="392.22" x2="392.22" y1="1027.33" y2="1050.38"/><line x1="392.22" x2="392.22" y1="1072.97" y2="1085.06"/><rect x="383.82" y="1050.38" width="16.8" height="22.6" fill="#52BB8C"/><line class="m" x1="383.82" x2="400.62" y1="1062.68" y2="1062.68"/><circle cx="392.22" cy="1002.72" r="3.95" stroke="none"/><line x1="424.2" x2="424.2" y1="774.94" y2="856.16"/><line x1="424.2" x2="424.2" y1="950.81" y2="1064.92"/><rect x="415.8" y="856.16" width="16.8" height="94.65" fill="#E69F00"/><line class="m" x1="415.8" x2="432.6" y1="896.66" y2="896.66"/><line x1="443.5" x2="443.5" y1="1023.97" y2="1039.41"/><line x1="443.5" x2="443.5" y1="1056.19" y2="1074.99"/><rect x="435.1" y="1039.41" width="16.8" height="16.78" fill="#52BB8C"/><line class="m" x1="435.1" x2="451.9" y1="1049.03" y2="1049.03"/><circle cx="443.5" cy="1014.8" r="3.95" stroke="none"/><line x1="475.48" x2="475.48" y1="656.8" y2="793.73"/><line x1="475.48" x2="475.48" y1="904.49" y2="1009.43"/><rect x="467.08" y="793.73" width="16.8" height="110.76" fill="#E69F00"/><line class="m" x1="467.08" x2="483.88" y1="846.76" y2="846.76"/><line x1="494.77" x2="494.77" y1="1001.37" y2="1031.58"/><line x1="494.77" x2="494.77" y1="1053.28" y2="1077.9"/><rect x="486.38" y="1031.58" width="16.8" height="21.7" fill="#52BB8C"/><line class="m" x1="486.38" x2="503.17" y1="1039.41" y2="1039.41"/><circle cx="494.77" cy="993.99" r="3.95" stroke="none"/><circle cx="494.77" cy="998.47" r="3.95" stroke="none"/><line x1="526.75" x2="526.75" y1="657.47" y2="734.66"/><line x1="526.75" x2="526.75" y1="840.95" y2="993.99"/><rect x="518.35" y="734.66" width="16.8" height="106.28" fill="#E69F00"/><line class="m" x1="518.35" x2="535.15" y1="773.6" y2="773.6"/><line x1="546.05" x2="546.05" y1="966.02" y2="1003.61"/><line x1="546.05" x2="546.05" y1="1031.58" y2="1045.23"/><rect x="537.65" y="1003.61" width="16.8" height="27.97" fill="#52BB8C"/><line class="m" x1="537.65" x2="554.45" y1="1021.06" y2="1021.06"/><circle cx="546.05" cy="1076.55" r="3.95" stroke="none"/><line x1="578.02" x2="578.02" y1="653" y2="763.75"/><line x1="578.02" x2="578.02" y1="841.84" y2="939.17"/><rect x="569.62" y="763.75" width="16.8" height="78.09" fill="#E69F00"/><line class="m" x1="569.62" x2="586.42" y1="811.19" y2="811.19"/><circle cx="578.02" cy="608.92" r="3.95" stroke="none"/><line x1="597.32" x2="597.32" y1="978.1" y2="996.23"/><line x1="597.32" x2="597.32" y1="1023.97" y2="1041.2"/><rect x="588.92" y="996.23" width="16.8" height="27.75" fill="#52BB8C"/><line class="m" x1="588.92" x2="605.72" y1="1010.1" y2="1010.1"/><line x1="629.3" x2="629.3" y1="694.39" y2="761.96"/><line x1="629.3" x2="629.3" y1="850.57" y2="933.35"/><rect x="620.9" y="761.96" width="16.8" height="88.61" fill="#E69F00"/><line class="m" x1="620.9" x2="637.7" y1="829.31" y2="829.31"/><circle cx="629.3" cy="605.34" r="3.95" stroke="none"/><circle cx="629.3" cy="611.83" r="3.95" stroke="none"/><line x1="648.6" x2="648.6" y1="983.92" y2="1007.19"/><line x1="648.6" x2="648.6" y1="1041.2" y2="1072.08"/><rect x="640.2" y="1007.19" width="16.8" height="34.01" fill="#52BB8C"/><line class="m" x1="640.2" x2="657" y1="1015.69" y2="1015.69"/><line x1="680.58" x2="680.58" y1="662.62" y2="793.29"/><line x1="680.58" x2="680.58" y1="887.26" y2="979.67"/><rect x="672.18" y="793.29" width="16.8" height="93.97" fill="#E69F00"/><line class="m" x1="672.18" x2="688.98" y1="846.76" y2="846.76"/><circle cx="680.58" cy="647.18" r="3.95" stroke="none"/><line x1="699.88" x2="699.88" y1="981.68" y2="1022.18"/><line x1="699.88" x2="699.88" y1="1049.03" y2="1068.28"/><rect x="691.48" y="1022.18" width="16.8" height="26.85" fill="#52BB8C"/><line class="m" x1="691.48" x2="708.27" y1="1033.59" y2="1033.59"/><circle cx="699.88" cy="1092.44" r="3.95" stroke="none"/><line x1="731.85" x2="731.85" y1="801.34" y2="863.99"/><line x1="731.85" x2="731.85" y1="918.14" y2="977.66"/><rect x="723.45" y="863.99" width="16.8" height="54.15" fill="#E69F00"/><line class="m" x1="723.45" x2="740.25" y1="885.7" y2="885.7"/><circle cx="731.85" cy="685.66" r="3.95" stroke="none"/><line x1="751.15" x2="751.15" y1="1023.08" y2="1041.2"/><line x1="751.15" x2="751.15" y1="1055.74" y2="1072.97"/><rect x="742.75" y="1041.2" width="16.8" height="14.54" fill="#52BB8C"/><line class="m" x1="742.75" x2="759.55" y1="1045.23" y2="1045.23"/><circle cx="751.15" cy="1001.82" r="3.95" stroke="none"/><line x1="783.12" x2="783.12" y1="814.1" y2="874.06"/><line x1="783.12" x2="783.12" y1="919.93" y2="966.69"/><rect x="774.73" y="874.06" width="16.8" height="45.87" fill="#E69F00"/><line class="m" x1="774.73" x2="791.52" y1="895.76" y2="895.76"/><circle cx="783.12" cy="795.52" r="3.95" stroke="none"/><line x1="802.42" x2="802.42" y1="1025.99" y2="1033.59"/><line x1="802.42" x2="802.42" y1="1051.94" y2="1064.92"/><rect x="794.02" y="1033.59" width="16.8" height="18.35" fill="#52BB8C"/><line class="m" x1="794.02" x2="810.82" y1="1044.11" y2="1044.11"/><circle cx="802.42" cy="998.47" r="3.95" stroke="none"/><circle cx="802.42" cy="1002.72" r="3.95" stroke="none"/><circle cx="802.42" cy="1008.53" r="3.95" stroke="none"/><circle cx="802.42" cy="1085.06" r="3.95" stroke="none"/><line x1="834.4" x2="834.4" y1="772.48" y2="856.16"/><line x1="834.4" x2="834.4" y1="960.2" y2="1030.91"/><rect x="826" y="856.16" width="16.8" height="104.04" fill="#E69F00"/><line class="m" x1="826" x2="842.8" y1="900.24" y2="900.24"/><line x1="853.7" x2="853.7" y1="1041.2" y2="1055.74"/><line x1="853.7" x2="853.7" y1="1070.74" y2="1082.15"/><rect x="845.3" y="1055.74" width="16.8" height="14.99" fill="#52BB8C"/><line class="m" x1="845.3" x2="862.1" y1="1061.34" y2="1061.34"/><line x1="885.68" x2="885.68" y1="764.87" y2="871.38"/><line x1="885.68" x2="885.68" y1="1001.82" y2="1070.74"/><rect x="877.28" y="871.38" width="16.8" height="130.45" fill="#E69F00"/><line class="m" x1="877.28" x2="894.08" y1="925.3" y2="925.3"/><line x1="904.98" x2="904.98" y1="1043.21" y2="1061.34"/><line x1="904.98" x2="904.98" y1="1074.09" y2="1093.34"/><rect x="896.58" y="1061.34" width="16.8" height="12.75" fill="#52BB8C"/><line class="m" x1="896.58" x2="913.38" y1="1066.26" y2="1066.26"/><line x1="936.95" x2="936.95" y1="971.84" y2="1036.5"/><line x1="936.95" x2="936.95" y1="1085.73" y2="1109.67"/><rect x="928.55" y="1036.5" width="16.8" height="49.23" fill="#E69F00"/><line class="m" x1="928.55" x2="945.35" y1="1073.64" y2="1073.64"/><circle cx="936.95" cy="955.06" r="3.95" stroke="none"/><line x1="956.25" x2="956.25" y1="1011.44" y2="1046.12"/><line x1="956.25" x2="956.25" y1="1074.09" y2="1100.27"/><rect x="947.85" y="1046.12" width="16.8" height="27.97" fill="#52BB8C"/><line class="m" x1="947.85" x2="964.65" y1="1059.77" y2="1059.77"/><circle cx="956.25" cy="993.32" r="3.95" stroke="none"/><line x1="988.23" x2="988.23" y1="906.06" y2="989.74"/><line x1="988.23" x2="988.23" y1="1070.74" y2="1105.42"/><rect x="979.83" y="989.74" width="16.8" height="81" fill="#E69F00"/><line class="m" x1="979.83" x2="996.62" y1="1017.26" y2="1017.26"/><line x1="1007.52" x2="1007.52" y1="1009.43" y2="1044.78"/><line x1="1007.52" x2="1007.52" y1="1072.08" y2="1093.78"/><rect x="999.12" y="1044.78" width="16.8" height="27.3" fill="#52BB8C"/><line class="m" x1="999.12" x2="1015.92" y1="1058.65" y2="1058.65"/><line x1="1039.5" x2="1039.5" y1="845.87" y2="908.74"/><line x1="1039.5" x2="1039.5" y1="1019.27" y2="1109.67"/><rect x="1031.1" y="908.74" width="16.8" height="110.53" fill="#E69F00"/><line class="m" x1="1031.1" x2="1047.9" y1="955.73" y2="955.73"/><line x1="1058.8" x2="1058.8" y1="1046.12" y2="1056.19"/><line x1="1058.8" x2="1058.8" y1="1080.81" y2="1090.43"/><rect x="1050.4" y="1056.19" width="16.8" height="24.61" fill="#52BB8C"/><line class="m" x1="1050.4" x2="1067.2" y1="1066.26" y2="1066.26"/><line x1="1090.77" x2="1090.77" y1="761.96" y2="892.86"/><line x1="1090.77" x2="1090.77" y1="983.47" y2="1044.78"/><rect x="1082.37" y="892.86" width="16.8" height="90.62" fill="#E69F00"/><line class="m" x1="1082.37" x2="1099.17" y1="931.34" y2="931.34"/><circle cx="1090.77" cy="705.13" r="3.95" stroke="none"/><line x1="1110.08" x2="1110.08" y1="1040.31" y2="1056.86"/><line x1="1110.08" x2="1110.08" y1="1072.08" y2="1082.82"/><rect x="1101.67" y="1056.86" width="16.8" height="15.21" fill="#52BB8C"/><line class="m" x1="1101.67" x2="1118.48" y1="1063.35" y2="1063.35"/><circle cx="1110.08" cy="1028.67" r="3.95" stroke="none"/><line x1="1142.05" x2="1142.05" y1="749.88" y2="839.38"/><line x1="1142.05" x2="1142.05" y1="919.03" y2="1007.19"/><rect x="1133.65" y="839.38" width="16.8" height="79.65" fill="#E69F00"/><line class="m" x1="1133.65" x2="1150.45" y1="884.35" y2="884.35"/><line x1="1161.35" x2="1161.35" y1="997.79" y2="1023.97"/><line x1="1161.35" x2="1161.35" y1="1049.93" y2="1081.7"/><rect x="1152.95" y="1023.97" width="16.8" height="25.95" fill="#52BB8C"/><line class="m" x1="1152.95" x2="1169.75" y1="1030.91" y2="1030.91"/><line x1="1193.32" x2="1193.32" y1="659.71" y2="789.71"/><line x1="1193.32" x2="1193.32" y1="887.93" y2="998.91"/><rect x="1184.92" y="789.71" width="16.8" height="98.23" fill="#E69F00"/><line class="m" x1="1184.92" x2="1201.72" y1="836.69" y2="836.69"/><circle cx="1193.32" cy="608.92" r="3.95" stroke="none"/><line x1="1212.62" x2="1212.62" y1="993.32" y2="1017.26"/><line x1="1212.62" x2="1212.62" y1="1037.4" y2="1056.86"/><rect x="1204.22" y="1017.26" width="16.8" height="20.14" fill="#52BB8C"/><line class="m" x1="1204.22" x2="1221.03" y1="1025.09" y2="1025.09"/><circle cx="1212.62" cy="1068.28" r="3.95" stroke="none"/><circle cx="1212.62" cy="1073.64" r="3.95" stroke="none"/><circle cx="1212.62" cy="1078.79" r="3.95" stroke="none"/><line x1="1244.6" x2="1244.6" y1="758.61" y2="817.9"/><line x1="1244.6" x2="1244.6" y1="884.35" y2="980.57"/><rect x="1236.2" y="817.9" width="16.8" height="66.45" fill="#E69F00"/><line class="m" x1="1236.2" x2="1253" y1="850.57" y2="850.57"/><circle cx="1244.6" cy="708.93" r="3.95" stroke="none"/><circle cx="1244.6" cy="713.63" r="3.95" stroke="none"/><line x1="1263.9" x2="1263.9" y1="991.31" y2="1030.24"/><line x1="1263.9" x2="1263.9" y1="1056.86" y2="1069.17"/><rect x="1255.5" y="1030.24" width="16.8" height="26.63" fill="#52BB8C"/><line class="m" x1="1255.5" x2="1272.3" y1="1038.29" y2="1038.29"/><line x1="1295.88" x2="1295.88" y1="725.27" y2="828.41"/><line x1="1295.88" x2="1295.88" y1="920.38" y2="982.58"/><rect x="1287.47" y="828.41" width="16.8" height="91.96" fill="#E69F00"/><line class="m" x1="1287.47" x2="1304.28" y1="861.98" y2="861.98"/><line x1="1315.18" x2="1315.18" y1="1033.15" y2="1049.03"/><line x1="1315.18" x2="1315.18" y1="1066.26" y2="1082.15"/><rect x="1306.78" y="1049.03" width="16.8" height="17.23" fill="#52BB8C"/><line class="m" x1="1306.78" x2="1323.58" y1="1056.19" y2="1056.19"/><line x1="1347.15" x2="1347.15" y1="764.87" y2="857.5"/><line x1="1347.15" x2="1347.15" y1="949.91" y2="1023.08"/><rect x="1338.75" y="857.5" width="16.8" height="92.41" fill="#E69F00"/><line class="m" x1="1338.75" x2="1355.55" y1="912.32" y2="912.32"/><line x1="1366.45" x2="1366.45" y1="1047.02" y2="1056.86"/><line x1="1366.45" x2="1366.45" y1="1068.28" y2="1081.7"/><rect x="1358.05" y="1056.86" width="16.8" height="11.41" fill="#52BB8C"/><line class="m" x1="1358.05" x2="1374.85" y1="1062.01" y2="1062.01"/><circle cx="1366.45" cy="1039.41" r="3.95" stroke="none"/><line x1="1398.42" x2="1398.42" y1="757.93" y2="893.75"/><line x1="1398.42" x2="1398.42" y1="990.41" y2="1047.47"/><rect x="1390.02" y="893.75" width="16.8" height="96.66" fill="#E69F00"/><line class="m" x1="1390.02" x2="1406.83" y1="934.25" y2="934.25"/><line x1="1417.73" x2="1417.73" y1="1044.78" y2="1057.76"/><line x1="1417.73" x2="1417.73" y1="1066.26" y2="1077.9"/><rect x="1409.33" y="1057.76" width="16.8" height="8.5" fill="#52BB8C"/><line class="m" x1="1409.33" x2="1426.13" y1="1062.01" y2="1062.01"/><circle cx="1417.73" cy="1089.53" r="3.95" stroke="none"/><line x1="1449.7" x2="1449.7" y1="841.84" y2="908.74"/><line x1="1449.7" x2="1449.7" y1="974.75" y2="1030.91"/><rect x="1441.3" y="908.74" width="16.8" height="66.01" fill="#E69F00"/><line class="m" x1="1441.3" x2="1458.1" y1="937.83" y2="937.83"/><line x1="1469" x2="1469" y1="1054.85" y2="1066.26"/><line x1="1469" x2="1469" y1="1081.7" y2="1096.02"/><rect x="1460.6" y="1066.26" width="16.8" height="15.44" fill="#52BB8C"/><line class="m" x1="1460.6" x2="1477.4" y1="1073.64" y2="1073.64"/><line x1="1500.97" x2="1500.97" y1="763.75" y2="861.08"/><line x1="1500.97" x2="1500.97" y1="1006.52" y2="1097.36"/><rect x="1492.57" y="861.08" width="16.8" height="145.44" fill="#E69F00"/><line class="m" x1="1492.57" x2="1509.38" y1="911.2" y2="911.2"/><line x1="1520.28" x2="1520.28" y1="1057.76" y2="1070.74"/><line x1="1520.28" x2="1520.28" y1="1082.82" y2="1098.03"/><rect x="1511.88" y="1070.74" width="16.8" height="12.08" fill="#52BB8C"/><line class="m" x1="1511.88" x2="1528.68" y1="1076.55" y2="1076.55"/><circle cx="1520.28" cy="1051.05" r="3.95" stroke="none"/><line x1="1552.25" x2="1552.25" y1="998.47" y2="1049.93"/><line x1="1552.25" x2="1552.25" y1="1086.62" y2="1109.67"/><rect x="1543.85" y="1049.93" width="16.8" height="36.69" fill="#E69F00"/><line class="m" x1="1543.85" x2="1560.65" y1="1068.28" y2="1068.28"/><circle cx="1552.25" cy="982.58" r="3.95" stroke="none"/><circle cx="1552.25" cy="991.31" r="3.95" stroke="none"/><circle cx="1552.25" cy="994.88" r="3.95" stroke="none"/><line x1="1571.55" x2="1571.55" y1="1030.91" y2="1061.34"/><line x1="1571.55" x2="1571.55" y1="1086.62" y2="1095.35"/><rect x="1563.15" y="1061.34" width="16.8" height="25.28" fill="#52BB8C"/><line class="m" x1="1563.15" x2="1579.95" y1="1076.55" y2="1076.55"/><line x1="1603.52" x2="1603.52" y1="868.47" y2="948.79"/><line x1="1603.52" x2="1603.52" y1="1057.76" y2="1085.73"/><rect x="1595.12" y="948.79" width="16.8" height="108.97" fill="#E69F00"/><line class="m" x1="1595.12" x2="1611.92" y1="989.74" y2="989.74"/><line x1="1622.83" x2="1622.83" y1="1028" y2="1049.03"/><line x1="1622.83" x2="1622.83" y1="1074.99" y2="1096.69"/><rect x="1614.42" y="1049.03" width="16.8" height="25.96" fill="#52BB8C"/><line class="m" x1="1614.42" x2="1631.23" y1="1058.65" y2="1058.65"/><line x1="1654.8" x2="1654.8" y1="811.19" y2="908.29"/><line x1="1654.8" x2="1654.8" y1="1030.91" y2="1100.94"/><rect x="1646.4" y="908.29" width="16.8" height="122.61" fill="#E69F00"/><line class="m" x1="1646.4" x2="1663.2" y1="962.22" y2="962.22"/><line x1="1674.1" x2="1674.1" y1="1023.97" y2="1051.05"/><line x1="1674.1" x2="1674.1" y1="1075.88" y2="1095.35"/><rect x="1665.7" y="1051.05" width="16.8" height="24.84" fill="#52BB8C"/><line class="m" x1="1665.7" x2="1682.5" y1="1061.34" y2="1061.34"/><circle cx="1674.1" cy="981.68" r="3.95" stroke="none"/><line x1="1706.07" x2="1706.07" y1="763.75" y2="881.44"/><line x1="1706.07" x2="1706.07" y1="983.47" y2="1094.45"/><rect x="1697.67" y="881.44" width="16.8" height="102.03" fill="#E69F00"/><line class="m" x1="1697.67" x2="1714.47" y1="944.09" y2="944.09"/><line x1="1725.38" x2="1725.38" y1="1021.06" y2="1049.93"/><line x1="1725.38" x2="1725.38" y1="1079.46" y2="1098.03"/><rect x="1716.97" y="1049.93" width="16.8" height="29.53" fill="#52BB8C"/><line class="m" x1="1716.97" x2="1733.78" y1="1064.92" y2="1064.92"/><circle cx="1725.38" cy="1002.72" r="3.95" stroke="none"/><line x1="1757.35" x2="1757.35" y1="747.64" y2="859.74"/><line x1="1757.35" x2="1757.35" y1="958.64" y2="1070.07"/><rect x="1748.95" y="859.74" width="16.8" height="98.9" fill="#E69F00"/><line class="m" x1="1748.95" x2="1765.75" y1="900.69" y2="900.69"/><line x1="1776.65" x2="1776.65" y1="1001.37" y2="1034.49"/><line x1="1776.65" x2="1776.65" y1="1057.76" y2="1079.91"/><rect x="1768.25" y="1034.49" width="16.8" height="23.27" fill="#52BB8C"/><line class="m" x1="1768.25" x2="1785.05" y1="1044.78" y2="1044.78"/><circle cx="1776.65" cy="983.92" r="3.95" stroke="none"/><line x1="1808.62" x2="1808.62" y1="681.19" y2="804.7"/><line x1="1808.62" x2="1808.62" y1="894.87" y2="981.68"/><rect x="1800.22" y="804.7" width="16.8" height="90.17" fill="#E69F00"/><line class="m" x1="1800.22" x2="1817.03" y1="853.25" y2="853.25"/><line x1="1827.93" x2="1827.93" y1="975.87" y2="1020.17"/><line x1="1827.93" x2="1827.93" y1="1049.93" y2="1074.99"/><rect x="1819.53" y="1020.17" width="16.8" height="29.76" fill="#52BB8C"/><line class="m" x1="1819.53" x2="1836.33" y1="1031.58" y2="1031.58"/><line x1="1859.9" x2="1859.9" y1="760.84" y2="833.11"/><line x1="1859.9" x2="1859.9" y1="883.46" y2="936.26"/><rect x="1851.5" y="833.11" width="16.8" height="50.34" fill="#E69F00"/><line class="m" x1="1851.5" x2="1868.3" y1="858.17" y2="858.17"/><circle cx="1859.9" cy="998.91" r="3.95" stroke="none"/><line x1="1879.2" x2="1879.2" y1="1008.53" y2="1029.57"/><line x1="1879.2" x2="1879.2" y1="1052.84" y2="1074.09"/><rect x="1870.8" y="1029.57" width="16.8" height="23.27" fill="#52BB8C"/><line class="m" x1="1870.8" x2="1887.6" y1="1041.87" y2="1041.87"/><line x1="1911.17" x2="1911.17" y1="799.55" y2="871.38"/><line x1="1911.17" x2="1911.17" y1="934.92" y2="1002.72"/><rect x="1902.77" y="871.38" width="16.8" height="63.55" fill="#E69F00"/><line class="m" x1="1902.77" x2="1919.58" y1="899.57" y2="899.57"/><line x1="1930.48" x2="1930.48" y1="1030.24" y2="1047.02"/><line x1="1930.48" x2="1930.48" y1="1059.1" y2="1073.64"/><rect x="1922.08" y="1047.02" width="16.8" height="12.08" fill="#52BB8C"/><line class="m" x1="1922.08" x2="1938.88" y1="1053.28" y2="1053.28"/></g>
<g fill="#AAAAAA" fill-opacity="0.235"><rect x="97.4" y="582.6" width="182.62" height="555.5"/><rect x="638.95" y="582.6" width="256.38" height="555.5"/><rect x="1254.25" y="582.6" width="256.38" height="555.5"/><rect x="1869.55" y="582.6" width="80.25" height="555.5"/></g>
<rect x="95.8" y="581" width="1855.6" height="558.7" fill="none" stroke="#1a1a1a" stroke-width="1.8"/>
<g stroke="#1A1A1A" stroke-width="2"><line x1="87.6" x2="95.8" y1="1117.5" y2="1117.5"/><line x1="87.6" x2="95.8" y1="1005.62" y2="1005.62"/><line x1="87.6" x2="95.8" y1="893.75" y2="893.75"/><line x1="87.6" x2="95.8" y1="781.88" y2="781.88"/><line x1="87.6" x2="95.8" y1="670" y2="670"/></g>
<g class="yt"><text x="80.6" y="1124.9">0</text><text x="80.6" y="1013.02">50</text><text x="80.6" y="901.15">100</text><text x="80.6" y="789.27">150</text><text x="80.6" y="677.4">200</text></g>
<text class="st" transform="translate(1975.3 860.35) rotate(90)">P. vera</text>
<g><line x1="95.8" x2="1951.4" y1="1636.86" y2="1636.86" stroke="#EBEBEB" stroke-width="1"/><line x1="95.8" x2="1951.4" y1="1524.99" y2="1524.99" stroke="#EBEBEB" stroke-width="1"/><line x1="95.8" x2="1951.4" y1="1413.11" y2="1413.11" stroke="#EBEBEB" stroke-width="1"/><line x1="95.8" x2="1951.4" y1="1301.24" y2="1301.24" stroke="#EBEBEB" stroke-width="1"/><line x1="95.8" x2="1951.4" y1="1189.36" y2="1189.36" stroke="#EBEBEB" stroke-width="1"/><line x1="95.8" x2="1951.4" y1="1692.8" y2="1692.8" stroke="#EBEBEB" stroke-width="2"/><line x1="95.8" x2="1951.4" y1="1580.92" y2="1580.92" stroke="#EBEBEB" stroke-width="2"/><line x1="95.8" x2="1951.4" y1="1469.05" y2="1469.05" stroke="#EBEBEB" stroke-width="2"/><line x1="95.8" x2="1951.4" y1="1357.17" y2="1357.17" stroke="#EBEBEB" stroke-width="2"/><line x1="95.8" x2="1951.4" y1="1245.3" y2="1245.3" stroke="#EBEBEB" stroke-width="2"/><line x1="126.2" x2="126.2" y1="1156.3" y2="1715" stroke="#EBEBEB" stroke-width="2"/><line x1="177.47" x2="177.47" y1="1156.3" y2="1715" stroke="#EBEBEB" stroke-width="2"/><line x1="228.75" x2="228.75" y1="1156.3" y2="1715" stroke="#EBEBEB" stroke-width="2"/><line x1="280.02" x2="280.02" y1="1156.3" y2="1715" stroke="#EBEBEB" stroke-width="2"/><line x1="331.3" x2="331.3" y1="1156.3" y2="1715" stroke="#EBEBEB" stroke-width="2"/><line x1="382.57" x2="382.57" y1="1156.3" y2="1715" stroke="#EBEBEB" stroke-width="2"/><line x1="433.85" x2="433.85" y1="1156.3" y2="1715" stroke="#EBEBEB" stroke-width="2"/><line x1="485.12" x2="485.12" y1="1156.3" y2="1715" stroke="#EBEBEB" stroke-width="2"/><line x1="536.4" x2="536.4" y1="1156.3" y2="1715" stroke="#EBEBEB" stroke-width="2"/><line x1="587.67" x2="587.67" y1="1156.3" y2="1715" stroke="#EBEBEB" stroke-width="2"/><line x1="638.95" x2="638.95" y1="1156.3" y2="1715" stroke="#EBEBEB" stroke-width="2"/><line x1="690.23" x2="690.23" y1="1156.3" y2="1715" stroke="#EBEBEB" stroke-width="2"/><line x1="741.5" x2="741.5" y1="1156.3" y2="1715" stroke="#EBEBEB" stroke-width="2"/><line x1="792.77" x2="792.77" y1="1156.3" y2="1715" stroke="#EBEBEB" stroke-width="2"/><line x1="844.05" x2="844.05" y1="1156.3" y2="1715" stroke="#EBEBEB" stroke-width="2"/><line x1="895.33" x2="895.33" y1="1156.3" y2="1715" stroke="#EBEBEB" stroke-width="2"/><line x1="946.6" x2="946.6" y1="1156.3" y2="1715" stroke="#EBEBEB" stroke-width="2"/><line x1="997.88" x2="997.88" y1="1156.3" y2="1715" stroke="#EBEBEB" stroke-width="2"/><line x1="1049.15" x2="1049.15" y1="1156.3" y2="1715" stroke="#EBEBEB" stroke-width="2"/><line x1="1100.42" x2="1100.42" y1="1156.3" y2="1715" stroke="#EBEBEB" stroke-width="2"/><line x1="1151.7" x2="1151.7" y1="1156.3" y2="1715" stroke="#EBEBEB" stroke-width="2"/><line x1="1202.97" x2="1202.97" y1="1156.3" y2="1715" stroke="#EBEBEB" stroke-width="2"/><line x1="1254.25" x2="1254.25" y1="1156.3" y2="1715" stroke="#EBEBEB" stroke-width="2"/><line x1="1305.53" x2="1305.53" y1="1156.3" y2="1715" stroke="#EBEBEB" stroke-width="2"/><line x1="1356.8" x2="1356.8" y1="1156.3" y2="1715" stroke="#EBEBEB" stroke-width="2"/><line x1="1408.08" x2="1408.08" y1="1156.3" y2="1715" stroke="#EBEBEB" stroke-width="2"/><line x1="1459.35" x2="1459.35" y1="1156.3" y2="1715" stroke="#EBEBEB" stroke-width="2"/><line x1="1510.62" x2="1510.62" y1="1156.3" y2="1715" stroke="#EBEBEB" stroke-width="2"/><line x1="1561.9" x2="1561.9" y1="1156.3" y2="1715" stroke="#EBEBEB" stroke-width="2"/><line x1="1613.17" x2="1613.17" y1="1156.3" y2="1715" stroke="#EBEBEB" stroke-width="2"/><line x1="1664.45" x2="1664.45" y1="1156.3" y2="1715" stroke="#EBEBEB" stroke-width="2"/><line x1="1715.72" x2="1715.72" y1="1156.3" y2="1715" stroke="#EBEBEB" stroke-width="2"/><line x1="1767" x2="1767" y1="1156.3" y2="1715" stroke="#EBEBEB" stroke-width="2"/><line x1="1818.28" x2="1818.28" y1="1156.3" y2="1715" stroke="#EBEBEB" stroke-width="2"/><line x1="1869.55" x2="1869.55" y1="1156.3" y2="1715" stroke="#EBEBEB" stroke-width="2"/><line x1="1920.83" x2="1920.83" y1="1156.3" y2="1715" stroke="#EBEBEB" stroke-width="2"/></g>
<g stroke="#141414" stroke-width="1.9" fill="#1A1A1A"><line x1="116.55" x2="116.55" y1="1329.21" y2="1416.92"/><line x1="116.55" x2="116.55" y1="1526.78" y2="1586.07"/><rect x="108.15" y="1416.92" width="16.8" height="109.86" fill="#E69F00"/><line class="m" x1="108.15" x2="124.95" y1="1439.07" y2="1439.07"/><line x1="135.85" x2="135.85" y1="1506.86" y2="1521.18"/><line x1="135.85" x2="135.85" y1="1572.65" y2="1594.57"/><rect x="127.45" y="1521.18" width="16.8" height="51.46" fill="#52BB8C"/><line class="m" x1="127.45" x2="144.25" y1="1553.4" y2="1553.4"/><line x1="167.82" x2="167.82" y1="1440.19" y2="1459.43"/><line x1="167.82" x2="167.82" y1="1539.31" y2="1585.62"/><rect x="159.42" y="1459.43" width="16.8" height="79.88" fill="#E69F00"/><line class="m" x1="159.42" x2="176.22" y1="1514.92" y2="1514.92"/><line x1="187.12" x2="187.12" y1="1526.78" y2="1544.45"/><line x1="187.12" x2="187.12" y1="1574.88" y2="1607.77"/><rect x="178.72" y="1544.45" width="16.8" height="30.43" fill="#52BB8C"/><line class="m" x1="178.72" x2="195.53" y1="1563.47" y2="1563.47"/><line x1="219.1" x2="219.1" y1="1449.81" y2="1505.74"/><line x1="219.1" x2="219.1" y1="1551.17" y2="1592.78"/><rect x="210.7" y="1505.74" width="16.8" height="45.42" fill="#E69F00"/><line class="m" x1="210.7" x2="227.5" y1="1522.3" y2="1522.3"/><circle cx="219.1" cy="1303.03" r="3.95" stroke="none"/><circle cx="219.1" cy="1383.13" r="3.95" stroke="none"/><circle cx="219.1" cy="1403.49" r="3.95" stroke="none"/><circle cx="219.1" cy="1421.39" r="3.95" stroke="none"/><circle cx="219.1" cy="1626.57" r="3.95" stroke="none"/><line x1="238.4" x2="238.4" y1="1525.21" y2="1546.69"/><line x1="238.4" x2="238.4" y1="1577.12" y2="1608.22"/><rect x="230" y="1546.69" width="16.8" height="30.43" fill="#52BB8C"/><line class="m" x1="230" x2="246.8" y1="1563.47" y2="1563.47"/><circle cx="238.4" cy="1479.12" r="3.95" stroke="none"/><circle cx="238.4" cy="1631.05" r="3.95" stroke="none"/><circle cx="238.4" cy="1637.76" r="3.95" stroke="none"/><line x1="270.38" x2="270.38" y1="1436.38" y2="1522.3"/><line x1="270.38" x2="270.38" y1="1598.83" y2="1640.67"/><rect x="261.98" y="1522.3" width="16.8" height="76.52" fill="#E69F00"/><line class="m" x1="261.98" x2="278.77" y1="1560.12" y2="1560.12"/><line x1="289.67" x2="289.67" y1="1581.6" y2="1605.98"/><line x1="289.67" x2="289.67" y1="1624.33" y2="1648.27"/><rect x="281.27" y="1605.98" width="16.8" height="18.35" fill="#52BB8C"/><line class="m" x1="281.27" x2="298.07" y1="1616.72" y2="1616.72"/><circle cx="289.67" cy="1548.93" r="3.95" stroke="none"/><circle cx="289.67" cy="1557.88" r="3.95" stroke="none"/><line x1="321.65" x2="321.65" y1="1460.1" y2="1538.64"/><line x1="321.65" x2="321.65" y1="1598.83" y2="1687.65"/><rect x="313.25" y="1538.64" width="16.8" height="60.19" fill="#E69F00"/><line class="m" x1="313.25" x2="330.05" y1="1582.27" y2="1582.27"/><line x1="340.95" x2="340.95" y1="1458.53" y2="1541.55"/><line x1="340.95" x2="340.95" y1="1600.62" y2="1673.33"/><rect x="332.55" y="1541.55" width="16.8" height="59.07" fill="#52BB8C"/><line class="m" x1="332.55" x2="349.35" y1="1573.99" y2="1573.99"/><line x1="372.93" x2="372.93" y1="1506.19" y2="1566.16"/><line x1="372.93" x2="372.93" y1="1633.28" y2="1669.98"/><rect x="364.53" y="1566.16" width="16.8" height="67.12" fill="#E69F00"/><line class="m" x1="364.53" x2="381.32" y1="1586.74" y2="1586.74"/><line x1="392.22" x2="392.22" y1="1524.54" y2="1566.83"/><line x1="392.22" x2="392.22" y1="1597.71" y2="1634.4"/><rect x="383.82" y="1566.83" width="16.8" height="30.88" fill="#52BB8C"/><line class="m" x1="383.82" x2="400.62" y1="1578.46" y2="1578.46"/><circle cx="392.22" cy="1487.85" r="3.95" stroke="none"/><circle cx="392.22" cy="1650.96" r="3.95" stroke="none"/><line x1="424.2" x2="424.2" y1="1505.3" y2="1572.65"/><line x1="424.2" x2="424.2" y1="1628.81" y2="1686.53"/><rect x="415.8" y="1572.65" width="16.8" height="56.16" fill="#E69F00"/><line class="m" x1="415.8" x2="432.6" y1="1597.03" y2="1597.03"/><line x1="443.5" x2="443.5" y1="1503.06" y2="1561.68"/><line x1="443.5" x2="443.5" y1="1633.28" y2="1676.24"/><rect x="435.1" y="1561.68" width="16.8" height="71.6" fill="#52BB8C"/><line class="m" x1="435.1" x2="451.9" y1="1586.74" y2="1586.74"/><line x1="475.48" x2="475.48" y1="1448.46" y2="1543.78"/><line x1="475.48" x2="475.48" y1="1611.8" y2="1663.26"/><rect x="467.08" y="1543.78" width="16.8" height="68.02" fill="#E69F00"/><line class="m" x1="467.08" x2="483.88" y1="1587.41" y2="1587.41"/><line x1="494.77" x2="494.77" y1="1489.63" y2="1547.36"/><line x1="494.77" x2="494.77" y1="1597.71" y2="1637.09"/><rect x="486.38" y="1547.36" width="16.8" height="50.34" fill="#52BB8C"/><line class="m" x1="486.38" x2="503.17" y1="1572.65" y2="1572.65"/><line x1="526.75" x2="526.75" y1="1439.51" y2="1535.73"/><line x1="526.75" x2="526.75" y1="1617.17" y2="1655.43"/><rect x="518.35" y="1535.73" width="16.8" height="81.45" fill="#E69F00"/><line class="m" x1="518.35" x2="535.15" y1="1574.88" y2="1574.88"/><line x1="546.05" x2="546.05" y1="1476.43" y2="1545.12"/><line x1="546.05" x2="546.05" y1="1592.34" y2="1636.19"/><rect x="537.65" y="1545.12" width="16.8" height="47.21" fill="#52BB8C"/><line class="m" x1="537.65" x2="554.45" y1="1571.08" y2="1571.08"/><line x1="578.02" x2="578.02" y1="1411.99" y2="1450.25"/><line x1="578.02" x2="578.02" y1="1563.92" y2="1652.08"/><rect x="569.62" y="1450.25" width="16.8" height="113.67" fill="#E69F00"/><line class="m" x1="569.62" x2="586.42" y1="1473.53" y2="1473.53"/><line x1="597.32" x2="597.32" y1="1454.28" y2="1503.95"/><line x1="597.32" x2="597.32" y1="1542.89" y2="1597.71"/><rect x="588.92" y="1503.95" width="16.8" height="38.93" fill="#52BB8C"/><line class="m" x1="588.92" x2="605.72" y1="1531.92" y2="1531.92"/><circle cx="597.32" cy="1610.01" r="3.95" stroke="none"/><circle cx="597.32" cy="1620.75" r="3.95" stroke="none"/><line x1="629.3" x2="629.3" y1="1446.23" y2="1467.93"/><line x1="629.3" x2="629.3" y1="1521.63" y2="1554.52"/><rect x="620.9" y="1467.93" width="16.8" height="53.7" fill="#E69F00"/><line class="m" x1="620.9" x2="637.7" y1="1489.63" y2="1489.63"/><line x1="648.6" x2="648.6" y1="1518.5" y2="1531.92"/><line x1="648.6" x2="648.6" y1="1557.21" y2="1568.84"/><rect x="640.2" y="1531.92" width="16.8" height="25.28" fill="#52BB8C"/><line class="m" x1="640.2" x2="657" y1="1545.12" y2="1545.12"/><line x1="680.58" x2="680.58" y1="1384.7" y2="1420.27"/><line x1="680.58" x2="680.58" y1="1542.89" y2="1578.91"/><rect x="672.18" y="1420.27" width="16.8" height="122.61" fill="#E69F00"/><line class="m" x1="672.18" x2="688.98" y1="1502.39" y2="1502.39"/><line x1="699.88" x2="699.88" y1="1504.63" y2="1533.49"/><line x1="699.88" x2="699.88" y1="1612.7" y2="1654.32"/><rect x="691.48" y="1533.49" width="16.8" height="79.21" fill="#52BB8C"/><line class="m" x1="691.48" x2="708.27" y1="1552.28" y2="1552.28"/><line x1="731.85" x2="731.85" y1="1417.36" y2="1474.2"/><line x1="731.85" x2="731.85" y1="1537.29" y2="1578.91"/><rect x="723.45" y="1474.2" width="16.8" height="63.1" fill="#E69F00"/><line class="m" x1="723.45" x2="740.25" y1="1526.11" y2="1526.11"/><line x1="751.15" x2="751.15" y1="1530.58" y2="1550.49"/><line x1="751.15" x2="751.15" y1="1585.62" y2="1608.89"/><rect x="742.75" y="1550.49" width="16.8" height="35.13" fill="#52BB8C"/><line class="m" x1="742.75" x2="759.55" y1="1570.41" y2="1570.41"/><circle cx="751.15" cy="1488.29" r="3.95" stroke="none"/><line x1="783.12" x2="783.12" y1="1401.7" y2="1472.85"/><line x1="783.12" x2="783.12" y1="1535.06" y2="1576.23"/><rect x="774.73" y="1472.85" width="16.8" height="62.2" fill="#E69F00"/><line class="m" x1="774.73" x2="791.52" y1="1508.43" y2="1508.43"/><line x1="802.42" x2="802.42" y1="1527.45" y2="1538.64"/><line x1="802.42" x2="802.42" y1="1567.72" y2="1611.13"/><rect x="794.02" y="1538.64" width="16.8" height="29.09" fill="#52BB8C"/><line class="m" x1="794.02" x2="810.82" y1="1554.52" y2="1554.52"/><line x1="834.4" x2="834.4" y1="1368.14" y2="1423.18"/><line x1="834.4" x2="834.4" y1="1482.92" y2="1509.1"/><rect x="826" y="1423.18" width="16.8" height="59.74" fill="#E69F00"/><line class="m" x1="826" x2="842.8" y1="1462.34" y2="1462.34"/><line x1="853.7" x2="853.7" y1="1470.17" y2="1530.58"/><line x1="853.7" x2="853.7" y1="1576.23" y2="1592.34"/><rect x="845.3" y="1530.58" width="16.8" height="45.64" fill="#52BB8C"/><line class="m" x1="845.3" x2="862.1" y1="1563.03" y2="1563.03"/><circle cx="853.7" cy="1452.05" r="3.95" stroke="none"/><line x1="885.68" x2="885.68" y1="1405.73" y2="1526.78"/><line x1="885.68" x2="885.68" y1="1608.22" y2="1645.59"/><rect x="877.28" y="1526.78" width="16.8" height="81.45" fill="#E69F00"/><line class="m" x1="877.28" x2="894.08" y1="1561.68" y2="1561.68"/><line x1="904.98" x2="904.98" y1="1556.76" y2="1603.3"/><line x1="904.98" x2="904.98" y1="1636.19" y2="1659.91"/><rect x="896.58" y="1603.3" width="16.8" height="32.89" fill="#52BB8C"/><line class="m" x1="896.58" x2="913.38" y1="1624.33" y2="1624.33"/><line x1="936.95" x2="936.95" y1="1478" y2="1567.72"/><line x1="936.95" x2="936.95" y1="1632.61" y2="1659.24"/><rect x="928.55" y="1567.72" width="16.8" height="64.89" fill="#E69F00"/><line class="m" x1="928.55" x2="945.35" y1="1597.71" y2="1597.71"/><line x1="956.25" x2="956.25" y1="1551.84" y2="1571.75"/><line x1="956.25" x2="956.25" y1="1622.32" y2="1640.67"/><rect x="947.85" y="1571.75" width="16.8" height="50.57" fill="#52BB8C"/><line class="m" x1="947.85" x2="964.65" y1="1603.3" y2="1603.3"/><line x1="988.23" x2="988.23" y1="1475.76" y2="1543.78"/><line x1="988.23" x2="988.23" y1="1618.96" y2="1686.53"/><rect x="979.83" y="1543.78" width="16.8" height="75.18" fill="#E69F00"/><line class="m" x1="979.83" x2="996.62" y1="1564.59" y2="1564.59"/><line x1="1007.52" x2="1007.52" y1="1520.07" y2="1556.31"/><line x1="1007.52" x2="1007.52" y1="1593.45" y2="1648.94"/><rect x="999.12" y="1556.31" width="16.8" height="37.14" fill="#52BB8C"/><line class="m" x1="999.12" x2="1015.92" y1="1576.67" y2="1576.67"/><circle cx="1007.52" cy="1665.06" r="3.95" stroke="none"/><line x1="1039.5" x2="1039.5" y1="1561.68" y2="1610.01"/><line x1="1039.5" x2="1039.5" y1="1670.42" y2="1683.63"/><rect x="1031.1" y="1610.01" width="16.8" height="60.41" fill="#E69F00"/><line class="m" x1="1031.1" x2="1047.9" y1="1643.8" y2="1643.8"/><line x1="1058.8" x2="1058.8" y1="1566.16" y2="1588.98"/><line x1="1058.8" x2="1058.8" y1="1645.14" y2="1663.26"/><rect x="1050.4" y="1588.98" width="16.8" height="56.16" fill="#52BB8C"/><line class="m" x1="1050.4" x2="1067.2" y1="1632.61" y2="1632.61"/><line x1="1090.77" x2="1090.77" y1="1466.14" y2="1525.21"/><line x1="1090.77" x2="1090.77" y1="1598.38" y2="1682.06"/><rect x="1082.37" y="1525.21" width="16.8" height="73.17" fill="#E69F00"/><line class="m" x1="1082.37" x2="1099.17" y1="1561.68" y2="1561.68"/><line x1="1110.08" x2="1110.08" y1="1514.47" y2="1560.79"/><line x1="1110.08" x2="1110.08" y1="1593.45" y2="1642.23"/><rect x="1101.67" y="1560.79" width="16.8" height="32.67" fill="#52BB8C"/><line class="m" x1="1101.67" x2="1118.48" y1="1569.51" y2="1569.51"/><circle cx="1110.08" cy="1506.86" r="3.95" stroke="none"/><circle cx="1110.08" cy="1509.1" r="3.95" stroke="none"/><circle cx="1110.08" cy="1648.94" r="3.95" stroke="none"/><circle cx="1110.08" cy="1654.32" r="3.95" stroke="none"/><circle cx="1110.08" cy="1658.79" r="3.95" stroke="none"/><line x1="1142.05" x2="1142.05" y1="1466.14" y2="1539.31"/><line x1="1142.05" x2="1142.05" y1="1612.25" y2="1650.06"/><rect x="1133.65" y="1539.31" width="16.8" height="72.94" fill="#E69F00"/><line class="m" x1="1133.65" x2="1150.45" y1="1575.56" y2="1575.56"/><line x1="1161.35" x2="1161.35" y1="1521.63" y2="1570.41"/><line x1="1161.35" x2="1161.35" y1="1609.57" y2="1650.06"/><rect x="1152.95" y="1570.41" width="16.8" height="39.16" fill="#52BB8C"/><line class="m" x1="1152.95" x2="1169.75" y1="1590.55" y2="1590.55"/><line x1="1193.32" x2="1193.32" y1="1425.87" y2="1478.67"/><line x1="1193.32" x2="1193.32" y1="1516.26" y2="1560.12"/><rect x="1184.92" y="1478.67" width="16.8" height="37.59" fill="#E69F00"/><line class="m" x1="1184.92" x2="1201.72" y1="1496.35" y2="1496.35"/><circle cx="1193.32" cy="1626.57" r="3.95" stroke="none"/><line x1="1212.62" x2="1212.62" y1="1500.15" y2="1516.26"/><line x1="1212.62" x2="1212.62" y1="1553.4" y2="1581.6"/><rect x="1204.22" y="1516.26" width="16.8" height="37.14" fill="#52BB8C"/><line class="m" x1="1204.22" x2="1221.03" y1="1540.65" y2="1540.65"/><circle cx="1212.62" cy="1637.76" r="3.95" stroke="none"/><line x1="1244.6" x2="1244.6" y1="1434.14" y2="1491.2"/><line x1="1244.6" x2="1244.6" y1="1534.61" y2="1586.07"/><rect x="1236.2" y="1491.2" width="16.8" height="43.41" fill="#E69F00"/><line class="m" x1="1236.2" x2="1253" y1="1517.83" y2="1517.83"/><line x1="1263.9" x2="1263.9" y1="1506.86" y2="1538.64"/><line x1="1263.9" x2="1263.9" y1="1563.47" y2="1574.44"/><rect x="1255.5" y="1538.64" width="16.8" height="24.84" fill="#52BB8C"/><line class="m" x1="1255.5" x2="1272.3" y1="1549.6" y2="1549.6"/><circle cx="1263.9" cy="1606.66" r="3.95" stroke="none"/><line x1="1295.88" x2="1295.88" y1="1419.6" y2="1484.49"/><line x1="1295.88" x2="1295.88" y1="1566.83" y2="1619.41"/><rect x="1287.47" y="1484.49" width="16.8" height="82.34" fill="#E69F00"/><line class="m" x1="1287.47" x2="1304.28" y1="1531.92" y2="1531.92"/><line x1="1315.18" x2="1315.18" y1="1526.11" y2="1559"/><line x1="1315.18" x2="1315.18" y1="1604.42" y2="1620.08"/><rect x="1306.78" y="1559" width="16.8" height="45.42" fill="#52BB8C"/><line class="m" x1="1306.78" x2="1323.58" y1="1584.5" y2="1584.5"/><line x1="1347.15" x2="1347.15" y1="1421.84" y2="1479.57"/><line x1="1347.15" x2="1347.15" y1="1522.97" y2="1580.03"/><rect x="1338.75" y="1479.57" width="16.8" height="43.41" fill="#E69F00"/><line class="m" x1="1338.75" x2="1355.55" y1="1496.8" y2="1496.8"/><line x1="1366.45" x2="1366.45" y1="1535.73" y2="1561.68"/><line x1="1366.45" x2="1366.45" y1="1588.31" y2="1610.46"/><rect x="1358.05" y="1561.68" width="16.8" height="26.63" fill="#52BB8C"/><line class="m" x1="1358.05" x2="1374.85" y1="1574.88" y2="1574.88"/><line x1="1398.42" x2="1398.42" y1="1469.05" y2="1498.59"/><line x1="1398.42" x2="1398.42" y1="1542.89" y2="1578.91"/><rect x="1390.02" y="1498.59" width="16.8" height="44.3" fill="#E69F00"/><line class="m" x1="1390.02" x2="1406.83" y1="1519.39" y2="1519.39"/><circle cx="1398.42" cy="1628.14" r="3.95" stroke="none"/><circle cx="1398.42" cy="1637.09" r="3.95" stroke="none"/><line x1="1417.73" x2="1417.73" y1="1548.26" y2="1574.44"/><line x1="1417.73" x2="1417.73" y1="1598.83" y2="1621.65"/><rect x="1409.33" y="1574.44" width="16.8" height="24.39" fill="#52BB8C"/><line class="m" x1="1409.33" x2="1426.13" y1="1582.27" y2="1582.27"/><line x1="1449.7" x2="1449.7" y1="1418.71" y2="1479.57"/><line x1="1449.7" x2="1449.7" y1="1532.37" y2="1579.36"/><rect x="1441.3" y="1479.57" width="16.8" height="52.8" fill="#E69F00"/><line class="m" x1="1441.3" x2="1458.1" y1="1506.19" y2="1506.19"/><line x1="1469" x2="1469" y1="1528.34" y2="1554.97"/><line x1="1469" x2="1469" y1="1587.41" y2="1604.42"/><rect x="1460.6" y="1554.97" width="16.8" height="32.44" fill="#52BB8C"/><line class="m" x1="1460.6" x2="1477.4" y1="1577.12" y2="1577.12"/><line x1="1500.97" x2="1500.97" y1="1480.91" y2="1522.97"/><line x1="1500.97" x2="1500.97" y1="1573.32" y2="1624.33"/><rect x="1492.57" y="1522.97" width="16.8" height="50.34" fill="#E69F00"/><line class="m" x1="1492.57" x2="1509.38" y1="1548.93" y2="1548.93"/><circle cx="1500.97" cy="1448.02" r="3.95" stroke="none"/><line x1="1520.28" x2="1520.28" y1="1549.6" y2="1593.45"/><line x1="1520.28" x2="1520.28" y1="1627.69" y2="1648.27"/><rect x="1511.88" y="1593.45" width="16.8" height="34.23" fill="#52BB8C"/><line class="m" x1="1511.88" x2="1528.68" y1="1605.09" y2="1605.09"/><circle cx="1520.28" cy="1520.07" r="3.95" stroke="none"/><circle cx="1520.28" cy="1528.34" r="3.95" stroke="none"/><line x1="1552.25" x2="1552.25" y1="1421.84" y2="1496.8"/><line x1="1552.25" x2="1552.25" y1="1587.86" y2="1667.74"/><rect x="1543.85" y="1496.8" width="16.8" height="91.07" fill="#E69F00"/><line class="m" x1="1543.85" x2="1560.65" y1="1554.97" y2="1554.97"/><line x1="1571.55" x2="1571.55" y1="1522.3" y2="1551.17"/><line x1="1571.55" x2="1571.55" y1="1581.15" y2="1607.77"/><rect x="1563.15" y="1551.17" width="16.8" height="29.98" fill="#52BB8C"/><line class="m" x1="1563.15" x2="1579.95" y1="1566.16" y2="1566.16"/><circle cx="1571.55" cy="1629.48" r="3.95" stroke="none"/><circle cx="1571.55" cy="1658.79" r="3.95" stroke="none"/><line x1="1603.52" x2="1603.52" y1="1524.54" y2="1560.12"/><line x1="1603.52" x2="1603.52" y1="1628.14" y2="1659.91"/><rect x="1595.12" y="1560.12" width="16.8" height="68.02" fill="#E69F00"/><line class="m" x1="1595.12" x2="1611.92" y1="1605.98" y2="1605.98"/><circle cx="1603.52" cy="1443.1" r="3.95" stroke="none"/><line x1="1622.83" x2="1622.83" y1="1530.13" y2="1582.27"/><line x1="1622.83" x2="1622.83" y1="1622.77" y2="1668.86"/><rect x="1614.42" y="1582.27" width="16.8" height="40.5" fill="#52BB8C"/><line class="m" x1="1614.42" x2="1631.23" y1="1601.06" y2="1601.06"/><line x1="1654.8" x2="1654.8" y1="1500.82" y2="1567.28"/><line x1="1654.8" x2="1654.8" y1="1641.11" y2="1684.97"/><rect x="1646.4" y="1567.28" width="16.8" height="73.84" fill="#E69F00"/><line class="m" x1="1646.4" x2="1663.2" y1="1611.13" y2="1611.13"/><circle cx="1654.8" cy="1410.88" r="3.95" stroke="none"/><line x1="1674.1" x2="1674.1" y1="1507.98" y2="1573.99"/><line x1="1674.1" x2="1674.1" y1="1630.37" y2="1676.24"/><rect x="1665.7" y="1573.99" width="16.8" height="56.39" fill="#52BB8C"/><line class="m" x1="1665.7" x2="1682.5" y1="1604.42" y2="1604.42"/><line x1="1706.07" x2="1706.07" y1="1501.27" y2="1525.21"/><line x1="1706.07" x2="1706.07" y1="1579.36" y2="1645.59"/><rect x="1697.67" y="1525.21" width="16.8" height="54.15" fill="#E69F00"/><line class="m" x1="1697.67" x2="1714.47" y1="1554.08" y2="1554.08"/><line x1="1725.38" x2="1725.38" y1="1517.16" y2="1556.76"/><line x1="1725.38" x2="1725.38" y1="1588.98" y2="1629.48"/><rect x="1716.97" y="1556.76" width="16.8" height="32.22" fill="#52BB8C"/><line class="m" x1="1716.97" x2="1733.78" y1="1571.08" y2="1571.08"/><line x1="1757.35" x2="1757.35" y1="1381.79" y2="1496.8"/><line x1="1757.35" x2="1757.35" y1="1601.51" y2="1665.95"/><rect x="1748.95" y="1496.8" width="16.8" height="104.71" fill="#E69F00"/><line class="m" x1="1748.95" x2="1765.75" y1="1548.93" y2="1548.93"/><line x1="1776.65" x2="1776.65" y1="1488.29" y2="1553.4"/><line x1="1776.65" x2="1776.65" y1="1599.27" y2="1635.52"/><rect x="1768.25" y="1553.4" width="16.8" height="45.87" fill="#52BB8C"/><line class="m" x1="1768.25" x2="1785.05" y1="1577.12" y2="1577.12"/><line x1="1808.62" x2="1808.62" y1="1427.88" y2="1454.28"/><line x1="1808.62" x2="1808.62" y1="1501.27" y2="1530.58"/><rect x="1800.22" y="1454.28" width="16.8" height="46.99" fill="#E69F00"/><line class="m" x1="1800.22" x2="1817.03" y1="1486.05" y2="1486.05"/><circle cx="1808.62" cy="1580.7" r="3.95" stroke="none"/><circle cx="1808.62" cy="1612.92" r="3.95" stroke="none"/><line x1="1827.93" x2="1827.93" y1="1496.35" y2="1514.02"/><line x1="1827.93" x2="1827.93" y1="1531.25" y2="1557.21"/><rect x="1819.53" y="1514.02" width="16.8" height="17.23" fill="#52BB8C"/><line class="m" x1="1819.53" x2="1836.33" y1="1522.97" y2="1522.97"/><circle cx="1827.93" cy="1483.82" r="3.95" stroke="none"/><circle cx="1827.93" cy="1561.68" r="3.95" stroke="none"/><circle cx="1827.93" cy="1603.3" r="3.95" stroke="none"/><circle cx="1827.93" cy="1634.85" r="3.95" stroke="none"/><line x1="1859.9" x2="1859.9" y1="1425.87" y2="1469.05"/><line x1="1859.9" x2="1859.9" y1="1502.39" y2="1542.22"/><rect x="1851.5" y="1469.05" width="16.8" height="33.34" fill="#E69F00"/><line class="m" x1="1851.5" x2="1868.3" y1="1485.61" y2="1485.61"/><line x1="1879.2" x2="1879.2" y1="1515.59" y2="1539.31"/><line x1="1879.2" x2="1879.2" y1="1562.35" y2="1585.18"/><rect x="1870.8" y="1539.31" width="16.8" height="23.05" fill="#52BB8C"/><line class="m" x1="1870.8" x2="1887.6" y1="1551.84" y2="1551.84"/><line x1="1911.17" x2="1911.17" y1="1439.51" y2="1463.01"/><line x1="1911.17" x2="1911.17" y1="1491.87" y2="1516.71"/><rect x="1902.77" y="1463.01" width="16.8" height="28.86" fill="#E69F00"/><line class="m" x1="1902.77" x2="1919.58" y1="1475.76" y2="1475.76"/><circle cx="1911.17" cy="1418.71" r="3.95" stroke="none"/><circle cx="1911.17" cy="1582.94" r="3.95" stroke="none"/><line x1="1930.48" x2="1930.48" y1="1532.37" y2="1555.64"/><line x1="1930.48" x2="1930.48" y1="1572.2" y2="1578.46"/><rect x="1922.08" y="1555.64" width="16.8" height="16.56" fill="#52BB8C"/><line class="m" x1="1922.08" x2="1938.88" y1="1565.71" y2="1565.71"/></g>
<g fill="#AAAAAA" fill-opacity="0.235"><rect x="97.4" y="1157.9" width="233.9" height="555.5"/><rect x="638.95" y="1157.9" width="307.65" height="555.5"/><rect x="1254.25" y="1157.9" width="307.65" height="555.5"/><rect x="1869.55" y="1157.9" width="80.25" height="555.5"/></g>
<rect x="95.8" y="1156.3" width="1855.6" height="558.7" fill="none" stroke="#1a1a1a" stroke-width="1.8"/>
<g stroke="#1A1A1A" stroke-width="2"><line x1="87.6" x2="95.8" y1="1692.8" y2="1692.8"/><line x1="87.6" x2="95.8" y1="1580.92" y2="1580.92"/><line x1="87.6" x2="95.8" y1="1469.05" y2="1469.05"/><line x1="87.6" x2="95.8" y1="1357.17" y2="1357.17"/><line x1="87.6" x2="95.8" y1="1245.3" y2="1245.3"/></g>
<g class="yt"><text x="80.6" y="1700.2">0</text><text x="80.6" y="1588.33">50</text><text x="80.6" y="1476.45">100</text><text x="80.6" y="1364.58">150</text><text x="80.6" y="1252.7">200</text></g>
<text class="st" transform="translate(1975.3 1435.65) rotate(90)">J. regia</text>
<g stroke="#1A1A1A" stroke-width="2"><line x1="126.2" x2="126.2" y1="1715" y2="1722.3"/><line x1="177.47" x2="177.47" y1="1715" y2="1722.3"/><line x1="228.75" x2="228.75" y1="1715" y2="1722.3"/><line x1="280.02" x2="280.02" y1="1715" y2="1722.3"/><line x1="331.3" x2="331.3" y1="1715" y2="1722.3"/><line x1="382.57" x2="382.57" y1="1715" y2="1722.3"/><line x1="433.85" x2="433.85" y1="1715" y2="1722.3"/><line x1="485.12" x2="485.12" y1="1715" y2="1722.3"/><line x1="536.4" x2="536.4" y1="1715" y2="1722.3"/><line x1="587.67" x2="587.67" y1="1715" y2="1722.3"/><line x1="638.95" x2="638.95" y1="1715" y2="1722.3"/><line x1="690.23" x2="690.23" y1="1715" y2="1722.3"/><line x1="741.5" x2="741.5" y1="1715" y2="1722.3"/><line x1="792.77" x2="792.77" y1="1715" y2="1722.3"/><line x1="844.05" x2="844.05" y1="1715" y2="1722.3"/><line x1="895.33" x2="895.33" y1="1715" y2="1722.3"/><line x1="946.6" x2="946.6" y1="1715" y2="1722.3"/><line x1="997.88" x2="997.88" y1="1715" y2="1722.3"/><line x1="1049.15" x2="1049.15" y1="1715" y2="1722.3"/><line x1="1100.42" x2="1100.42" y1="1715" y2="1722.3"/><line x1="1151.7" x2="1151.7" y1="1715" y2="1722.3"/><line x1="1202.97" x2="1202.97" y1="1715" y2="1722.3"/><line x1="1254.25" x2="1254.25" y1="1715" y2="1722.3"/><line x1="1305.53" x2="1305.53" y1="1715" y2="1722.3"/><line x1="1356.8" x2="1356.8" y1="1715" y2="1722.3"/><line x1="1408.08" x2="1408.08" y1="1715" y2="1722.3"/><line x1="1459.35" x2="1459.35" y1="1715" y2="1722.3"/><line x1="1510.62" x2="1510.62" y1="1715" y2="1722.3"/><line x1="1561.9" x2="1561.9" y1="1715" y2="1722.3"/><line x1="1613.17" x2="1613.17" y1="1715" y2="1722.3"/><line x1="1664.45" x2="1664.45" y1="1715" y2="1722.3"/><line x1="1715.72" x2="1715.72" y1="1715" y2="1722.3"/><line x1="1767" x2="1767" y1="1715" y2="1722.3"/><line x1="1818.28" x2="1818.28" y1="1715" y2="1722.3"/><line x1="1869.55" x2="1869.55" y1="1715" y2="1722.3"/><line x1="1920.83" x2="1920.83" y1="1715" y2="1722.3"/></g>
<g class="xt"><text transform="translate(133.6 1731.5) rotate(-90)">2017-01</text><text transform="translate(184.88 1731.5) rotate(-90)">2017-02</text><text transform="translate(236.15 1731.5) rotate(-90)">2017-03</text><text transform="translate(287.42 1731.5) rotate(-90)">2017-04</text><text transform="translate(338.7 1731.5) rotate(-90)">2017-05</text><text transform="translate(389.97 1731.5) rotate(-90)">2017-06</text><text transform="translate(441.25 1731.5) rotate(-90)">2017-07</text><text transform="translate(492.52 1731.5) rotate(-90)">2017-08</text><text transform="translate(543.8 1731.5) rotate(-90)">2017-09</text><text transform="translate(595.07 1731.5) rotate(-90)">2017-10</text><text transform="translate(646.35 1731.5) rotate(-90)">2017-11</text><text transform="translate(697.62 1731.5) rotate(-90)">2017-12</text><text transform="translate(748.9 1731.5) rotate(-90)">2018-01</text><text transform="translate(800.17 1731.5) rotate(-90)">2018-02</text><text transform="translate(851.45 1731.5) rotate(-90)">2018-03</text><text transform="translate(902.73 1731.5) rotate(-90)">2018-04</text><text transform="translate(954 1731.5) rotate(-90)">2018-05</text><text transform="translate(1005.27 1731.5) rotate(-90)">2018-06</text><text transform="translate(1056.55 1731.5) rotate(-90)">2018-07</text><text transform="translate(1107.83 1731.5) rotate(-90)">2018-08</text><text transform="translate(1159.1 1731.5) rotate(-90)">2018-09</text><text transform="translate(1210.38 1731.5) rotate(-90)">2018-10</text><text transform="translate(1261.65 1731.5) rotate(-90)">2018-11</text><text transform="translate(1312.93 1731.5) rotate(-90)">2018-12</text><text transform="translate(1364.2 1731.5) rotate(-90)">2019-01</text><text transform="translate(1415.48 1731.5) rotate(-90)">2019-02</text><text transform="translate(1466.75 1731.5) rotate(-90)">2019-03</text><text transform="translate(1518.03 1731.5) rotate(-90)">2019-04</text><text transform="translate(1569.3 1731.5) rotate(-90)">2019-05</text><text transform="translate(1620.58 1731.5) rotate(-90)">2019-06</text><text transform="translate(1671.85 1731.5) rotate(-90)">2019-07</text><text transform="translate(1723.12 1731.5) rotate(-90)">2019-08</text><text transform="translate(1774.4 1731.5) rotate(-90)">2019-09</text><text transform="translate(1825.68 1731.5) rotate(-90)">2019-10</text><text transform="translate(1876.95 1731.5) rotate(-90)">2019-11</text><text transform="translate(1928.23 1731.5) rotate(-90)">2019-12</text></g>
<text class="tt" x="1023.6" y="1837.8">Time (Year-Month)</text>
<text class="tt" style="font-size:29.6px" transform="translate(33.2 860.35) rotate(-90)">Concentration (mg/g DW)</text>
<rect x="152" y="30.5" width="257" height="119.5" fill="#fff"/><g stroke="#141414" stroke-width="1.9"><line x1="185.8" x2="185.8" y1="64.1" y2="94.7"/><rect x="172" y="69.8" width="27.8" height="19" fill="#E69F00"/><line x1="172" x2="199.8" y1="79.3" y2="79.3" stroke-width="1.9"/></g><text class="lg" x="219.6" y="88.6">NSC in wood</text><g stroke="#141414" stroke-width="1.9"><line x1="185.8" x2="185.8" y1="101.3" y2="131.9"/><rect x="172" y="107" width="27.8" height="19" fill="#52BB8C"/><line x1="172" x2="199.8" y1="116.5" y2="116.5" stroke-width="1.9"/></g><text class="lg" x="219.6" y="125.8">NSC in bark</text>
</svg>
</body></html>
